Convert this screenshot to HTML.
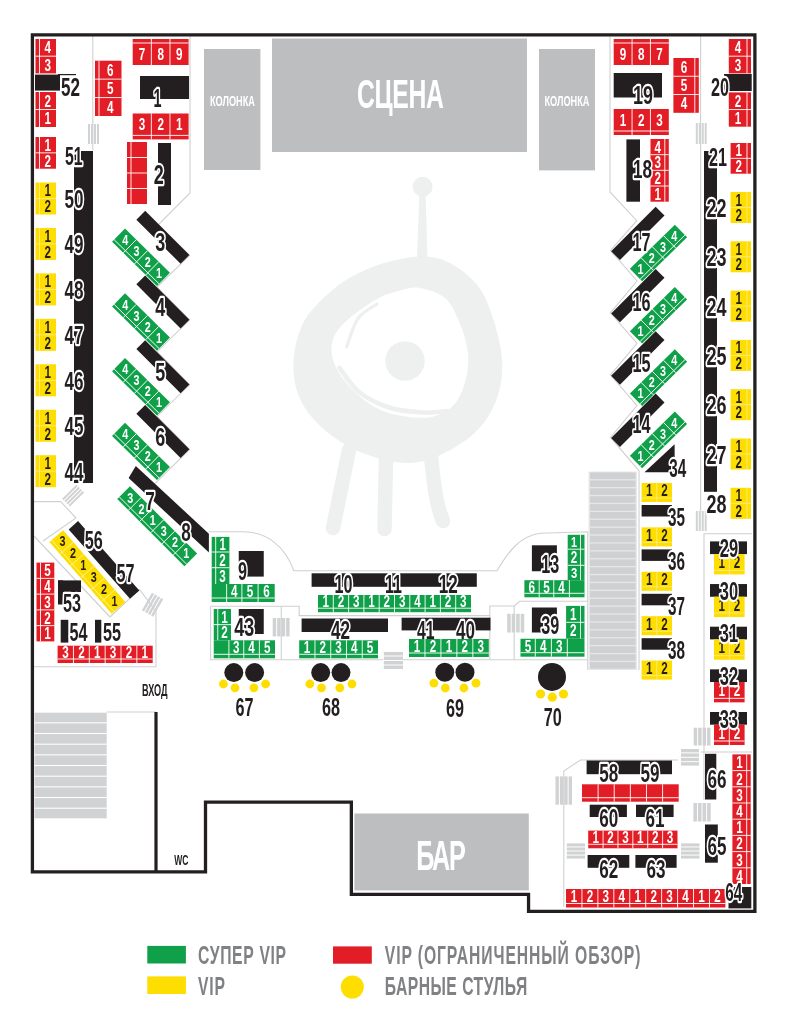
<!DOCTYPE html>
<html><head><meta charset="utf-8"><style>
html,body{margin:0;padding:0;background:#fff;width:787px;height:1024px;overflow:hidden}
svg{display:block;font-family:"Liberation Sans",sans-serif;will-change:transform}
</style></head><body>
<svg width="787" height="1024" viewBox="0 0 787 1024">
<path d="M349,450 L333,528" fill="none" stroke="#eeefef" stroke-width="14.5" stroke-linecap="round" stroke-linejoin="round" />
<path d="M386,458 L384.5,529" fill="none" stroke="#eeefef" stroke-width="14.5" stroke-linecap="round" stroke-linejoin="round" />
<path d="M431,455 Q435,503 443,521" fill="none" stroke="#eeefef" stroke-width="14.5" stroke-linecap="round" stroke-linejoin="round" />
<polygon points="419.5,192 425.5,192 427.5,258 417,258" fill="#eeefef"/>
<circle cx="422.6" cy="186.7" r="10" fill="#eeefef"/>
<path d="M422.2,256.4 C433.63,256.4 441.27,258.35 450.8,263.6 C460.33,268.85 472.02,277.67 479.4,287.9 C486.78,298.13 491.28,312.13 495.1,325 C498.92,337.87 502.07,352.7 502.3,365.1 C502.53,377.5 500.32,388.92 496.5,399.4 C492.68,409.88 486.53,419.9 479.4,428 C472.27,436.1 463.7,442.33 453.7,448 C443.7,453.67 430.85,460 419.4,462 C407.95,464 396.92,462.67 385,460 C373.08,457.33 359.33,452.3 347.9,446 C336.47,439.7 324.73,430.92 316.4,422.2 C308.07,413.48 301.7,404.17 297.9,393.7 C294.1,383.23 292.88,370.85 293.6,359.4 C294.32,347.95 297.92,334.53 302.2,325 C306.48,315.47 312.17,309.58 319.3,302.2 C326.43,294.82 334.52,287.13 345,280.7 C355.48,274.27 369.33,267.65 382.2,263.6 C395.07,259.55 410.77,256.4 422.2,256.4Z" fill="#eeefef" stroke="none" stroke-width="0" stroke-linecap="round" stroke-linejoin="round" />
<path d="M419.4,287.9 C427.02,289.1 438.43,292.18 445.1,297.9 C451.77,303.62 455.58,312.92 459.4,322.2 C463.22,331.48 467.05,343.6 468,353.6 C468.95,363.6 467.48,373.62 465.1,382.2 C462.72,390.78 458.93,399.38 453.7,405.1 C448.47,410.82 441.8,414.6 433.7,416.5 C425.6,418.4 414.63,417.92 405.1,416.5 C395.57,415.08 385.55,412.75 376.5,408 C367.45,403.25 357.72,395.15 350.8,388 C343.88,380.85 338.1,372.73 335,365.1 C331.9,357.47 330.53,349.35 332.2,342.2 C333.87,335.05 337.62,329.35 345,322.2 C352.38,315.05 367.43,304.55 376.5,299.3 C385.57,294.05 392.25,292.6 399.4,290.7 C406.55,288.8 411.78,286.7 419.4,287.9Z" fill="#ffffff" stroke="none" stroke-width="0" stroke-linecap="round" stroke-linejoin="round" />
<path d="M377,304 C373.83,306.42 363.08,311.33 358,318.5 C352.92,325.67 348.42,342.25 346.5,347" fill="none" stroke="#eeefef" stroke-width="3.2" stroke-linecap="round" stroke-linejoin="round" />
<path d="M339.5,368 C342.75,372 350.75,385.42 359,392 C367.25,398.58 378.33,404.08 389,407.5 C399.67,410.92 413.33,411.92 423,412.5 C432.67,413.08 443,411.25 447,411" fill="none" stroke="#eeefef" stroke-width="4.6" stroke-linecap="round" stroke-linejoin="round" />
<circle cx="405" cy="361" r="19.7" fill="#eeefef"/>
<polyline points="190,36 190,193 158,225 189.6,255.4 157,287 189.6,320.1 157,351.7 189.6,384.8 157,416.4 189.6,449.5 153.6,484.9 209,536.4" fill="none" stroke="#cfd0d1" stroke-width="1.1" stroke-linejoin="miter"/>
<path d="M208.5,531.7 L243.8,531.7 C268,532 286,548 293.8,570.8 L497,570.8 C508,552 520,536 540,533.3 L587.7,531.7 L587.7,601.3" fill="none" stroke="#cfd0d1" stroke-width="1.1"/>
<polyline points="610,36 610,192 636.8,220.7 610.5,250.5 637,281 610.5,312.8 637,343.3 610.5,375.1 637,405.6 610.5,437.4 639,470.8 639,670" fill="none" stroke="#cfd0d1" stroke-width="1.1" stroke-linejoin="miter"/>
<line x1="92.8" y1="36" x2="92.8" y2="150" stroke="#cfd0d1" stroke-width="1.1"/>
<line x1="700.6" y1="36" x2="700.6" y2="511" stroke="#cfd0d1" stroke-width="1.1"/>
<polyline points="32,501.6 60.7,501.6 76,518 43,541" fill="none" stroke="#cfd0d1" stroke-width="1.1" stroke-linejoin="miter"/>
<polyline points="34,536 110,617" fill="none" stroke="#cfd0d1" stroke-width="1.1" stroke-linejoin="miter"/>
<polyline points="139.4,589.3 152,606 156,612 156,666.8 32,666.8" fill="none" stroke="#cfd0d1" stroke-width="1.1" stroke-linejoin="miter"/>
<polyline points="110,617 139.4,589.3" fill="none" stroke="#cfd0d1" stroke-width="1.1" stroke-linejoin="miter"/>
<line x1="106.7" y1="712" x2="156" y2="712" stroke="#cfd0d1" stroke-width="1.1"/>
<polyline points="210.6,606.3 299.2,606.3 299.2,615.6 489.8,615.6" fill="none" stroke="#cfd0d1" stroke-width="1.1" stroke-linejoin="miter"/>
<polyline points="210.6,606.3 210.6,659.8 383,659.8" fill="none" stroke="#cfd0d1" stroke-width="1.1" stroke-linejoin="miter"/>
<line x1="281.3" y1="606.3" x2="281.3" y2="659.8" stroke="#cfd0d1" stroke-width="1.1"/>
<polyline points="489.8,659.6 489.8,606 514.2,606 519.7,601.3 587.7,601.3" fill="none" stroke="#cfd0d1" stroke-width="1.1" stroke-linejoin="miter"/>
<line x1="514.2" y1="606" x2="514.2" y2="659.8" stroke="#cfd0d1" stroke-width="1.1"/>
<line x1="403" y1="659.8" x2="587.7" y2="659.8" stroke="#cfd0d1" stroke-width="1.1"/>
<line x1="587.7" y1="601.3" x2="587.7" y2="670" stroke="#cfd0d1" stroke-width="1.1"/>
<polyline points="752,533.7 704,533.7 704,800" fill="none" stroke="#cfd0d1" stroke-width="1.1" stroke-linejoin="miter"/>
<polyline points="678,760 580.5,760 563.8,771 563.8,907" fill="none" stroke="#cfd0d1" stroke-width="1.1" stroke-linejoin="miter"/>
<line x1="700.9" y1="752" x2="752.3" y2="752" stroke="#cfd0d1" stroke-width="1.1"/>
<polygon points="32.4,34.8 754.9,34.8 754.9,911.35 528.55,911.35 528.55,894.35 351.35,894.35 351.35,802.1 205.5,802.1 205.5,871.9 32.4,871.9" fill="none" stroke="#231f20" stroke-width="3.3" stroke-linejoin="miter"/>
<line x1="156" y1="712" x2="156" y2="872" stroke="#231f20" stroke-width="3.2"/>
<rect x="272" y="38.5" width="255" height="113.5" fill="#bdbec0" />
<rect x="204" y="49" width="56.4" height="121" fill="#bdbec0" />
<rect x="539" y="49" width="56" height="121.4" fill="#bdbec0" />
<rect x="354.4" y="813.5" width="174.4" height="76.9" fill="#bdbec0" />
<g transform="translate(357 107.65) scale(0.6 1)"><text x="0" y="0" font-size="41.3" font-weight="bold" fill="#ffffff" textLength="145" lengthAdjust="spacing">СЦЕНА</text></g>
<text x="210" y="106" font-size="13.89" font-weight="bold" fill="#ffffff" textLength="45" lengthAdjust="spacingAndGlyphs">КОЛОНКА</text>
<text x="544.5" y="106" font-size="13.89" font-weight="bold" fill="#ffffff" textLength="45" lengthAdjust="spacingAndGlyphs">КОЛОНКА</text>
<g transform="translate(416.25 870) scale(0.6 1)"><text x="0" y="0" font-size="42.03" font-weight="bold" fill="#ffffff" textLength="82.5" lengthAdjust="spacing">БАР</text></g>
<rect x="88" y="124" width="2" height="20" fill="#d1d2d3" />
<rect x="91" y="124" width="2" height="20" fill="#d1d2d3" />
<rect x="94" y="124" width="2" height="20" fill="#d1d2d3" />
<rect x="97" y="124" width="2" height="20" fill="#d1d2d3" />
<rect x="695.8" y="123" width="1.98" height="21" fill="#d1d2d3" />
<rect x="698.77" y="123" width="1.98" height="21" fill="#d1d2d3" />
<rect x="701.75" y="123" width="1.98" height="21" fill="#d1d2d3" />
<rect x="704.73" y="123" width="1.98" height="21" fill="#d1d2d3" />
<rect x="695.8" y="511" width="1.98" height="20" fill="#d1d2d3" />
<rect x="698.77" y="511" width="1.98" height="20" fill="#d1d2d3" />
<rect x="701.75" y="511" width="1.98" height="20" fill="#d1d2d3" />
<rect x="704.73" y="511" width="1.98" height="20" fill="#d1d2d3" />
<rect x="272.7" y="618" width="3.48" height="18.4" fill="#d1d2d3" />
<rect x="277.18" y="618" width="3.47" height="18.4" fill="#d1d2d3" />
<rect x="281.65" y="618" width="3.48" height="18.4" fill="#d1d2d3" />
<rect x="286.12" y="618" width="3.48" height="18.4" fill="#d1d2d3" />
<rect x="507.2" y="613.8" width="3.5" height="18.7" fill="#d1d2d3" />
<rect x="511.7" y="613.8" width="3.5" height="18.7" fill="#d1d2d3" />
<rect x="516.2" y="613.8" width="3.5" height="18.7" fill="#d1d2d3" />
<rect x="520.7" y="613.8" width="3.5" height="18.7" fill="#d1d2d3" />
<rect x="383.8" y="652" width="19.2" height="3.5" fill="#d1d2d3" />
<rect x="383.8" y="656.5" width="19.2" height="3.5" fill="#d1d2d3" />
<rect x="383.8" y="661" width="19.2" height="3.5" fill="#d1d2d3" />
<rect x="383.8" y="665.5" width="19.2" height="3.5" fill="#d1d2d3" />
<rect x="693.7" y="727.7" width="3.45" height="17.8" fill="#d1d2d3" />
<rect x="698.15" y="727.7" width="3.45" height="17.8" fill="#d1d2d3" />
<rect x="702.6" y="727.7" width="3.45" height="17.8" fill="#d1d2d3" />
<rect x="707.05" y="727.7" width="3.45" height="17.8" fill="#d1d2d3" />
<rect x="681" y="749" width="18" height="3.4" fill="#d1d2d3" />
<rect x="681" y="753.4" width="18" height="3.4" fill="#d1d2d3" />
<rect x="681" y="757.8" width="18" height="3.4" fill="#d1d2d3" />
<rect x="681" y="762.2" width="18" height="3.4" fill="#d1d2d3" />
<rect x="555.5" y="776.4" width="3.38" height="28.3" fill="#d1d2d3" />
<rect x="559.88" y="776.4" width="3.38" height="28.3" fill="#d1d2d3" />
<rect x="564.25" y="776.4" width="3.38" height="28.3" fill="#d1d2d3" />
<rect x="568.62" y="776.4" width="3.38" height="28.3" fill="#d1d2d3" />
<rect x="566.8" y="843.4" width="18.2" height="3.05" fill="#d1d2d3" />
<rect x="566.8" y="847.45" width="18.2" height="3.05" fill="#d1d2d3" />
<rect x="566.8" y="851.5" width="18.2" height="3.05" fill="#d1d2d3" />
<rect x="566.8" y="855.55" width="18.2" height="3.05" fill="#d1d2d3" />
<rect x="681" y="843.4" width="18.5" height="3.05" fill="#d1d2d3" />
<rect x="681" y="847.45" width="18.5" height="3.05" fill="#d1d2d3" />
<rect x="681" y="851.5" width="18.5" height="3.05" fill="#d1d2d3" />
<rect x="681" y="855.55" width="18.5" height="3.05" fill="#d1d2d3" />
<rect x="693.4" y="803" width="3.58" height="18.5" fill="#d1d2d3" />
<rect x="697.98" y="803" width="3.57" height="18.5" fill="#d1d2d3" />
<rect x="702.55" y="803" width="3.58" height="18.5" fill="#d1d2d3" />
<rect x="707.12" y="803" width="3.58" height="18.5" fill="#d1d2d3" />
<g transform="translate(73.5,496) rotate(-45)">
<rect x="-10" y="-6" width="20" height="2" fill="#d1d2d3" />
<rect x="-10" y="-3" width="20" height="2" fill="#d1d2d3" />
<rect x="-10" y="0" width="20" height="2" fill="#d1d2d3" />
<rect x="-10" y="3" width="20" height="2" fill="#d1d2d3" />
</g>
<g transform="translate(153,605) rotate(-60)">
<rect x="-10" y="-7" width="20" height="2.5" fill="#d1d2d3" />
<rect x="-10" y="-3.5" width="20" height="2.5" fill="#d1d2d3" />
<rect x="-10" y="0" width="20" height="2.5" fill="#d1d2d3" />
<rect x="-10" y="3.5" width="20" height="2.5" fill="#d1d2d3" />
</g>
<rect x="588.5" y="471.5" width="48.5" height="198.5" fill="#e6e7e8" />
<rect x="590" y="472.5" width="45.5" height="6.6" fill="#cfd0d2" />
<rect x="590" y="480.4" width="45.5" height="6.6" fill="#cfd0d2" />
<rect x="590" y="488.3" width="45.5" height="6.6" fill="#cfd0d2" />
<rect x="590" y="496.2" width="45.5" height="6.6" fill="#cfd0d2" />
<rect x="590" y="504.1" width="45.5" height="6.6" fill="#cfd0d2" />
<rect x="590" y="512" width="45.5" height="6.6" fill="#cfd0d2" />
<rect x="590" y="519.9" width="45.5" height="6.6" fill="#cfd0d2" />
<rect x="590" y="527.8" width="45.5" height="6.6" fill="#cfd0d2" />
<rect x="590" y="535.7" width="45.5" height="6.6" fill="#cfd0d2" />
<rect x="590" y="543.6" width="45.5" height="6.6" fill="#cfd0d2" />
<rect x="590" y="551.5" width="45.5" height="6.6" fill="#cfd0d2" />
<rect x="590" y="559.4" width="45.5" height="6.6" fill="#cfd0d2" />
<rect x="590" y="567.3" width="45.5" height="6.6" fill="#cfd0d2" />
<rect x="590" y="575.2" width="45.5" height="6.6" fill="#cfd0d2" />
<rect x="590" y="583.1" width="45.5" height="6.6" fill="#cfd0d2" />
<rect x="590" y="591" width="45.5" height="6.6" fill="#cfd0d2" />
<rect x="590" y="598.9" width="45.5" height="6.6" fill="#cfd0d2" />
<rect x="590" y="606.8" width="45.5" height="6.6" fill="#cfd0d2" />
<rect x="590" y="614.7" width="45.5" height="6.6" fill="#cfd0d2" />
<rect x="590" y="622.6" width="45.5" height="6.6" fill="#cfd0d2" />
<rect x="590" y="630.5" width="45.5" height="6.6" fill="#cfd0d2" />
<rect x="590" y="638.4" width="45.5" height="6.6" fill="#cfd0d2" />
<rect x="590" y="646.3" width="45.5" height="6.6" fill="#cfd0d2" />
<rect x="590" y="654.2" width="45.5" height="6.6" fill="#cfd0d2" />
<rect x="590" y="662.1" width="45.5" height="6.6" fill="#cfd0d2" />
<rect x="34.5" y="712.7" width="72.2" height="9.6" fill="#d1d2d4" />
<rect x="34.5" y="723.37" width="72.2" height="9.6" fill="#d1d2d4" />
<rect x="34.5" y="734.04" width="72.2" height="9.6" fill="#d1d2d4" />
<rect x="34.5" y="744.71" width="72.2" height="9.6" fill="#d1d2d4" />
<rect x="34.5" y="755.38" width="72.2" height="9.6" fill="#d1d2d4" />
<rect x="34.5" y="766.05" width="72.2" height="9.6" fill="#d1d2d4" />
<rect x="34.5" y="776.72" width="72.2" height="9.6" fill="#d1d2d4" />
<rect x="34.5" y="787.39" width="72.2" height="9.6" fill="#d1d2d4" />
<rect x="34.5" y="798.06" width="72.2" height="9.6" fill="#d1d2d4" />
<rect x="34.5" y="808.73" width="72.2" height="9.6" fill="#d1d2d4" />
<rect x="35.5" y="39" width="20.5" height="34.4" fill="#e31d25" />
<line x1="35.5" y1="56.2" x2="56" y2="56.2" stroke="#ffffff" stroke-width="0.9"/>
<line x1="39.5" y1="39" x2="39.5" y2="73.4" stroke="#ffffff" stroke-width="0.9"/>
<text x="44.5" y="53.4" font-size="16.11" font-weight="bold" fill="#ffffff" textLength="6.5" lengthAdjust="spacingAndGlyphs">4</text>
<text x="44.5" y="70.6" font-size="16.11" font-weight="bold" fill="#ffffff" textLength="6.5" lengthAdjust="spacingAndGlyphs">3</text>
<rect x="35" y="74.6" width="25" height="16" fill="#231f20" />
<rect x="35.5" y="92" width="20.5" height="35" fill="#e31d25" />
<line x1="35.5" y1="109.5" x2="56" y2="109.5" stroke="#ffffff" stroke-width="0.9"/>
<line x1="39.5" y1="92" x2="39.5" y2="127" stroke="#ffffff" stroke-width="0.9"/>
<text x="44.5" y="106.55" font-size="16.11" font-weight="bold" fill="#ffffff" textLength="6.5" lengthAdjust="spacingAndGlyphs">2</text>
<text x="44.5" y="124.05" font-size="16.11" font-weight="bold" fill="#ffffff" textLength="6.5" lengthAdjust="spacingAndGlyphs">1</text>
<rect x="35.5" y="137" width="20.5" height="31.7" fill="#e31d25" />
<line x1="35.5" y1="152.85" x2="56" y2="152.85" stroke="#ffffff" stroke-width="0.9"/>
<line x1="39.5" y1="137" x2="39.5" y2="168.7" stroke="#ffffff" stroke-width="0.9"/>
<text x="44.5" y="150.73" font-size="16.11" font-weight="bold" fill="#ffffff" textLength="6.5" lengthAdjust="spacingAndGlyphs">1</text>
<text x="44.5" y="166.57" font-size="16.11" font-weight="bold" fill="#ffffff" textLength="6.5" lengthAdjust="spacingAndGlyphs">2</text>
<rect x="74" y="151" width="19" height="332" fill="#231f20" />
<rect x="35.5" y="182.5" width="20.5" height="32" fill="#fedd00" />
<line x1="35.5" y1="198.5" x2="56" y2="198.5" stroke="#ffec80" stroke-width="0.9"/>
<line x1="39.5" y1="182.5" x2="39.5" y2="214.5" stroke="#ffec80" stroke-width="0.9"/>
<text x="44.5" y="196.3" font-size="16.11" font-weight="bold" fill="#231f20" textLength="6.5" lengthAdjust="spacingAndGlyphs">1</text>
<text x="44.5" y="212.3" font-size="16.11" font-weight="bold" fill="#231f20" textLength="6.5" lengthAdjust="spacingAndGlyphs">2</text>
<text x="64.5" y="208" font-size="26.39" font-weight="bold" fill="#ffffff" stroke="#ffffff" stroke-width="4.4" stroke-linejoin="round" textLength="19" lengthAdjust="spacingAndGlyphs">50</text><text x="64.5" y="208" font-size="26.39" font-weight="bold" fill="#231f20" textLength="19" lengthAdjust="spacingAndGlyphs">50</text>
<rect x="35.5" y="227.95" width="20.5" height="32" fill="#fedd00" />
<line x1="35.5" y1="243.95" x2="56" y2="243.95" stroke="#ffec80" stroke-width="0.9"/>
<line x1="39.5" y1="227.95" x2="39.5" y2="259.95" stroke="#ffec80" stroke-width="0.9"/>
<text x="44.5" y="241.75" font-size="16.11" font-weight="bold" fill="#231f20" textLength="6.5" lengthAdjust="spacingAndGlyphs">1</text>
<text x="44.5" y="257.75" font-size="16.11" font-weight="bold" fill="#231f20" textLength="6.5" lengthAdjust="spacingAndGlyphs">2</text>
<text x="64.5" y="253.45" font-size="26.39" font-weight="bold" fill="#ffffff" stroke="#ffffff" stroke-width="4.4" stroke-linejoin="round" textLength="19" lengthAdjust="spacingAndGlyphs">49</text><text x="64.5" y="253.45" font-size="26.39" font-weight="bold" fill="#231f20" textLength="19" lengthAdjust="spacingAndGlyphs">49</text>
<rect x="35.5" y="273.4" width="20.5" height="32" fill="#fedd00" />
<line x1="35.5" y1="289.4" x2="56" y2="289.4" stroke="#ffec80" stroke-width="0.9"/>
<line x1="39.5" y1="273.4" x2="39.5" y2="305.4" stroke="#ffec80" stroke-width="0.9"/>
<text x="44.5" y="287.2" font-size="16.11" font-weight="bold" fill="#231f20" textLength="6.5" lengthAdjust="spacingAndGlyphs">1</text>
<text x="44.5" y="303.2" font-size="16.11" font-weight="bold" fill="#231f20" textLength="6.5" lengthAdjust="spacingAndGlyphs">2</text>
<text x="64.5" y="298.9" font-size="26.39" font-weight="bold" fill="#ffffff" stroke="#ffffff" stroke-width="4.4" stroke-linejoin="round" textLength="19" lengthAdjust="spacingAndGlyphs">48</text><text x="64.5" y="298.9" font-size="26.39" font-weight="bold" fill="#231f20" textLength="19" lengthAdjust="spacingAndGlyphs">48</text>
<rect x="35.5" y="318.85" width="20.5" height="32" fill="#fedd00" />
<line x1="35.5" y1="334.85" x2="56" y2="334.85" stroke="#ffec80" stroke-width="0.9"/>
<line x1="39.5" y1="318.85" x2="39.5" y2="350.85" stroke="#ffec80" stroke-width="0.9"/>
<text x="44.5" y="332.65" font-size="16.11" font-weight="bold" fill="#231f20" textLength="6.5" lengthAdjust="spacingAndGlyphs">1</text>
<text x="44.5" y="348.65" font-size="16.11" font-weight="bold" fill="#231f20" textLength="6.5" lengthAdjust="spacingAndGlyphs">2</text>
<text x="64.5" y="344.35" font-size="26.39" font-weight="bold" fill="#ffffff" stroke="#ffffff" stroke-width="4.4" stroke-linejoin="round" textLength="19" lengthAdjust="spacingAndGlyphs">47</text><text x="64.5" y="344.35" font-size="26.39" font-weight="bold" fill="#231f20" textLength="19" lengthAdjust="spacingAndGlyphs">47</text>
<rect x="35.5" y="364.3" width="20.5" height="32" fill="#fedd00" />
<line x1="35.5" y1="380.3" x2="56" y2="380.3" stroke="#ffec80" stroke-width="0.9"/>
<line x1="39.5" y1="364.3" x2="39.5" y2="396.3" stroke="#ffec80" stroke-width="0.9"/>
<text x="44.5" y="378.1" font-size="16.11" font-weight="bold" fill="#231f20" textLength="6.5" lengthAdjust="spacingAndGlyphs">1</text>
<text x="44.5" y="394.1" font-size="16.11" font-weight="bold" fill="#231f20" textLength="6.5" lengthAdjust="spacingAndGlyphs">2</text>
<text x="64.5" y="389.8" font-size="26.39" font-weight="bold" fill="#ffffff" stroke="#ffffff" stroke-width="4.4" stroke-linejoin="round" textLength="19" lengthAdjust="spacingAndGlyphs">46</text><text x="64.5" y="389.8" font-size="26.39" font-weight="bold" fill="#231f20" textLength="19" lengthAdjust="spacingAndGlyphs">46</text>
<rect x="35.5" y="409.75" width="20.5" height="32" fill="#fedd00" />
<line x1="35.5" y1="425.75" x2="56" y2="425.75" stroke="#ffec80" stroke-width="0.9"/>
<line x1="39.5" y1="409.75" x2="39.5" y2="441.75" stroke="#ffec80" stroke-width="0.9"/>
<text x="44.5" y="423.55" font-size="16.11" font-weight="bold" fill="#231f20" textLength="6.5" lengthAdjust="spacingAndGlyphs">1</text>
<text x="44.5" y="439.55" font-size="16.11" font-weight="bold" fill="#231f20" textLength="6.5" lengthAdjust="spacingAndGlyphs">2</text>
<text x="64.5" y="435.25" font-size="26.39" font-weight="bold" fill="#ffffff" stroke="#ffffff" stroke-width="4.4" stroke-linejoin="round" textLength="19" lengthAdjust="spacingAndGlyphs">45</text><text x="64.5" y="435.25" font-size="26.39" font-weight="bold" fill="#231f20" textLength="19" lengthAdjust="spacingAndGlyphs">45</text>
<rect x="35.5" y="455.2" width="20.5" height="32" fill="#fedd00" />
<line x1="35.5" y1="471.2" x2="56" y2="471.2" stroke="#ffec80" stroke-width="0.9"/>
<line x1="39.5" y1="455.2" x2="39.5" y2="487.2" stroke="#ffec80" stroke-width="0.9"/>
<text x="44.5" y="469" font-size="16.11" font-weight="bold" fill="#231f20" textLength="6.5" lengthAdjust="spacingAndGlyphs">1</text>
<text x="44.5" y="485" font-size="16.11" font-weight="bold" fill="#231f20" textLength="6.5" lengthAdjust="spacingAndGlyphs">2</text>
<text x="64.5" y="480.7" font-size="26.39" font-weight="bold" fill="#ffffff" stroke="#ffffff" stroke-width="4.4" stroke-linejoin="round" textLength="19" lengthAdjust="spacingAndGlyphs">44</text><text x="64.5" y="480.7" font-size="26.39" font-weight="bold" fill="#231f20" textLength="19" lengthAdjust="spacingAndGlyphs">44</text>
<text x="61" y="96" font-size="26.39" font-weight="bold" fill="#ffffff" stroke="#ffffff" stroke-width="4.4" stroke-linejoin="round" textLength="19" lengthAdjust="spacingAndGlyphs">52</text><text x="61" y="96" font-size="26.39" font-weight="bold" fill="#231f20" textLength="19" lengthAdjust="spacingAndGlyphs">52</text>
<line x1="58" y1="74.6" x2="76" y2="74.6" stroke="#231f20" stroke-width="1.2"/>
<text x="65" y="164.65" font-size="25.69" font-weight="bold" fill="#ffffff" stroke="#ffffff" stroke-width="4.4" stroke-linejoin="round" textLength="17.6" lengthAdjust="spacingAndGlyphs">51</text><text x="65" y="164.65" font-size="25.69" font-weight="bold" fill="#231f20" textLength="17.6" lengthAdjust="spacingAndGlyphs">51</text>
<rect x="95" y="60.7" width="26.5" height="55.3" fill="#e31d25" />
<line x1="95" y1="79.13" x2="121.5" y2="79.13" stroke="#ffffff" stroke-width="0.9"/>
<line x1="95" y1="97.57" x2="121.5" y2="97.57" stroke="#ffffff" stroke-width="0.9"/>
<line x1="99" y1="60.7" x2="99" y2="116" stroke="#ffffff" stroke-width="0.9"/>
<text x="107" y="75.72" font-size="16.11" font-weight="bold" fill="#ffffff" textLength="6.5" lengthAdjust="spacingAndGlyphs">6</text>
<text x="107" y="94.15" font-size="16.11" font-weight="bold" fill="#ffffff" textLength="6.5" lengthAdjust="spacingAndGlyphs">5</text>
<text x="107" y="112.58" font-size="16.11" font-weight="bold" fill="#ffffff" textLength="6.5" lengthAdjust="spacingAndGlyphs">4</text>
<rect x="132.7" y="39" width="55.9" height="26" fill="#e31d25" />
<line x1="151.33" y1="39" x2="151.33" y2="65" stroke="#ffffff" stroke-width="0.9"/>
<line x1="169.97" y1="39" x2="169.97" y2="65" stroke="#ffffff" stroke-width="0.9"/>
<line x1="132.7" y1="43" x2="188.6" y2="43" stroke="#ffffff" stroke-width="0.9"/>
<text x="138.77" y="59.8" font-size="16.11" font-weight="bold" fill="#ffffff" textLength="6.5" lengthAdjust="spacingAndGlyphs">7</text>
<text x="157.4" y="59.8" font-size="16.11" font-weight="bold" fill="#ffffff" textLength="6.5" lengthAdjust="spacingAndGlyphs">8</text>
<text x="176.04" y="59.8" font-size="16.11" font-weight="bold" fill="#ffffff" textLength="6.5" lengthAdjust="spacingAndGlyphs">9</text>
<rect x="140" y="76" width="49" height="23" fill="#231f20" />
<text x="153.5" y="106.5" font-size="25" font-weight="bold" fill="#ffffff" stroke="#ffffff" stroke-width="4.4" stroke-linejoin="round" textLength="8" lengthAdjust="spacingAndGlyphs">1</text><text x="153.5" y="106.5" font-size="25" font-weight="bold" fill="#231f20" textLength="8" lengthAdjust="spacingAndGlyphs">1</text>
<rect x="132.7" y="113.5" width="55.9" height="25.9" fill="#e31d25" />
<line x1="151.33" y1="113.5" x2="151.33" y2="139.4" stroke="#ffffff" stroke-width="0.9"/>
<line x1="169.97" y1="113.5" x2="169.97" y2="139.4" stroke="#ffffff" stroke-width="0.9"/>
<line x1="132.7" y1="135.4" x2="188.6" y2="135.4" stroke="#ffffff" stroke-width="0.9"/>
<text x="138.77" y="130.25" font-size="16.11" font-weight="bold" fill="#ffffff" textLength="6.5" lengthAdjust="spacingAndGlyphs">3</text>
<text x="157.4" y="130.25" font-size="16.11" font-weight="bold" fill="#ffffff" textLength="6.5" lengthAdjust="spacingAndGlyphs">2</text>
<text x="176.04" y="130.25" font-size="16.11" font-weight="bold" fill="#ffffff" textLength="6.5" lengthAdjust="spacingAndGlyphs">1</text>
<rect x="127" y="142" width="20" height="62" fill="#e31d25" />
<line x1="127" y1="157.5" x2="147" y2="157.5" stroke="#ffffff" stroke-width="0.9"/>
<line x1="127" y1="173" x2="147" y2="173" stroke="#ffffff" stroke-width="0.9"/>
<line x1="127" y1="188.5" x2="147" y2="188.5" stroke="#ffffff" stroke-width="0.9"/>
<line x1="131" y1="142" x2="131" y2="204" stroke="#ffffff" stroke-width="0.9"/>
<rect x="158" y="143" width="13" height="62" fill="#231f20" />
<text x="153.8" y="184" font-size="27.78" font-weight="bold" fill="#ffffff" stroke="#ffffff" stroke-width="4.4" stroke-linejoin="round" textLength="10" lengthAdjust="spacingAndGlyphs">2</text><text x="153.8" y="184" font-size="27.78" font-weight="bold" fill="#231f20" textLength="10" lengthAdjust="spacingAndGlyphs">2</text>
<g transform="translate(162.9 237.35) rotate(45)">
<rect x="-31.25" y="-6.25" width="62.5" height="12.5" fill="#231f20" />
</g>
<g transform="translate(141 257.3) rotate(44.5)">
<rect x="-31.5" y="-9.25" width="63" height="18.5" fill="#10a04a" />
<line x1="-15.75" y1="-9.25" x2="-15.75" y2="9.25" stroke="#ffffff" stroke-width="0.9"/>
<line x1="0" y1="-9.25" x2="0" y2="9.25" stroke="#ffffff" stroke-width="0.9"/>
<line x1="15.75" y1="-9.25" x2="15.75" y2="9.25" stroke="#ffffff" stroke-width="0.9"/>
<line x1="-31.5" y1="6.25" x2="31.5" y2="6.25" stroke="#ffffff" stroke-width="0.9"/>
</g>
<text x="122.2" y="244.92" font-size="14.58" font-weight="bold" fill="#ffffff" textLength="6" lengthAdjust="spacingAndGlyphs">4</text>
<text x="133.43" y="255.96" font-size="14.58" font-weight="bold" fill="#ffffff" textLength="6" lengthAdjust="spacingAndGlyphs">3</text>
<text x="144.67" y="267" font-size="14.58" font-weight="bold" fill="#ffffff" textLength="6" lengthAdjust="spacingAndGlyphs">2</text>
<text x="155.9" y="278.04" font-size="14.58" font-weight="bold" fill="#ffffff" textLength="6" lengthAdjust="spacingAndGlyphs">1</text>
<text x="155.3" y="251" font-size="26.39" font-weight="bold" fill="#ffffff" stroke="#ffffff" stroke-width="4.4" stroke-linejoin="round" textLength="10" lengthAdjust="spacingAndGlyphs">3</text><text x="155.3" y="251" font-size="26.39" font-weight="bold" fill="#231f20" textLength="10" lengthAdjust="spacingAndGlyphs">3</text>
<g transform="translate(162.9 302.05) rotate(45)">
<rect x="-31.25" y="-6.25" width="62.5" height="12.5" fill="#231f20" />
</g>
<g transform="translate(141 322) rotate(44.5)">
<rect x="-31.5" y="-9.25" width="63" height="18.5" fill="#10a04a" />
<line x1="-15.75" y1="-9.25" x2="-15.75" y2="9.25" stroke="#ffffff" stroke-width="0.9"/>
<line x1="0" y1="-9.25" x2="0" y2="9.25" stroke="#ffffff" stroke-width="0.9"/>
<line x1="15.75" y1="-9.25" x2="15.75" y2="9.25" stroke="#ffffff" stroke-width="0.9"/>
<line x1="-31.5" y1="6.25" x2="31.5" y2="6.25" stroke="#ffffff" stroke-width="0.9"/>
</g>
<text x="122.2" y="309.62" font-size="14.58" font-weight="bold" fill="#ffffff" textLength="6" lengthAdjust="spacingAndGlyphs">4</text>
<text x="133.43" y="320.66" font-size="14.58" font-weight="bold" fill="#ffffff" textLength="6" lengthAdjust="spacingAndGlyphs">3</text>
<text x="144.67" y="331.7" font-size="14.58" font-weight="bold" fill="#ffffff" textLength="6" lengthAdjust="spacingAndGlyphs">2</text>
<text x="155.9" y="342.74" font-size="14.58" font-weight="bold" fill="#ffffff" textLength="6" lengthAdjust="spacingAndGlyphs">1</text>
<text x="155.3" y="316" font-size="26.39" font-weight="bold" fill="#ffffff" stroke="#ffffff" stroke-width="4.4" stroke-linejoin="round" textLength="10" lengthAdjust="spacingAndGlyphs">4</text><text x="155.3" y="316" font-size="26.39" font-weight="bold" fill="#231f20" textLength="10" lengthAdjust="spacingAndGlyphs">4</text>
<g transform="translate(162.9 366.75) rotate(45)">
<rect x="-31.25" y="-6.25" width="62.5" height="12.5" fill="#231f20" />
</g>
<g transform="translate(141 386.7) rotate(44.5)">
<rect x="-31.5" y="-9.25" width="63" height="18.5" fill="#10a04a" />
<line x1="-15.75" y1="-9.25" x2="-15.75" y2="9.25" stroke="#ffffff" stroke-width="0.9"/>
<line x1="0" y1="-9.25" x2="0" y2="9.25" stroke="#ffffff" stroke-width="0.9"/>
<line x1="15.75" y1="-9.25" x2="15.75" y2="9.25" stroke="#ffffff" stroke-width="0.9"/>
<line x1="-31.5" y1="6.25" x2="31.5" y2="6.25" stroke="#ffffff" stroke-width="0.9"/>
</g>
<text x="122.2" y="374.32" font-size="14.58" font-weight="bold" fill="#ffffff" textLength="6" lengthAdjust="spacingAndGlyphs">4</text>
<text x="133.43" y="385.36" font-size="14.58" font-weight="bold" fill="#ffffff" textLength="6" lengthAdjust="spacingAndGlyphs">3</text>
<text x="144.67" y="396.4" font-size="14.58" font-weight="bold" fill="#ffffff" textLength="6" lengthAdjust="spacingAndGlyphs">2</text>
<text x="155.9" y="407.44" font-size="14.58" font-weight="bold" fill="#ffffff" textLength="6" lengthAdjust="spacingAndGlyphs">1</text>
<text x="155.3" y="381" font-size="26.39" font-weight="bold" fill="#ffffff" stroke="#ffffff" stroke-width="4.4" stroke-linejoin="round" textLength="10" lengthAdjust="spacingAndGlyphs">5</text><text x="155.3" y="381" font-size="26.39" font-weight="bold" fill="#231f20" textLength="10" lengthAdjust="spacingAndGlyphs">5</text>
<g transform="translate(162.9 431.45) rotate(45)">
<rect x="-31.25" y="-6.25" width="62.5" height="12.5" fill="#231f20" />
</g>
<g transform="translate(141 451.4) rotate(44.5)">
<rect x="-31.5" y="-9.25" width="63" height="18.5" fill="#10a04a" />
<line x1="-15.75" y1="-9.25" x2="-15.75" y2="9.25" stroke="#ffffff" stroke-width="0.9"/>
<line x1="0" y1="-9.25" x2="0" y2="9.25" stroke="#ffffff" stroke-width="0.9"/>
<line x1="15.75" y1="-9.25" x2="15.75" y2="9.25" stroke="#ffffff" stroke-width="0.9"/>
<line x1="-31.5" y1="6.25" x2="31.5" y2="6.25" stroke="#ffffff" stroke-width="0.9"/>
</g>
<text x="122.2" y="439.02" font-size="14.58" font-weight="bold" fill="#ffffff" textLength="6" lengthAdjust="spacingAndGlyphs">4</text>
<text x="133.43" y="450.06" font-size="14.58" font-weight="bold" fill="#ffffff" textLength="6" lengthAdjust="spacingAndGlyphs">3</text>
<text x="144.67" y="461.1" font-size="14.58" font-weight="bold" fill="#ffffff" textLength="6" lengthAdjust="spacingAndGlyphs">2</text>
<text x="155.9" y="472.14" font-size="14.58" font-weight="bold" fill="#ffffff" textLength="6" lengthAdjust="spacingAndGlyphs">1</text>
<text x="155.3" y="446" font-size="26.39" font-weight="bold" fill="#ffffff" stroke="#ffffff" stroke-width="4.4" stroke-linejoin="round" textLength="10" lengthAdjust="spacingAndGlyphs">6</text><text x="155.3" y="446" font-size="26.39" font-weight="bold" fill="#231f20" textLength="10" lengthAdjust="spacingAndGlyphs">6</text>
<polygon points="135.8,466 208.9,533.8 208.9,552.4 128.6,478" fill="#231f20"/>
<g transform="translate(157.2 526.3) rotate(45)">
<rect x="-47.5" y="-9" width="95" height="18" fill="#10a04a" />
<line x1="-31.67" y1="-9" x2="-31.67" y2="9" stroke="#ffffff" stroke-width="0.9"/>
<line x1="-15.83" y1="-9" x2="-15.83" y2="9" stroke="#ffffff" stroke-width="0.9"/>
<line x1="0" y1="-9" x2="0" y2="9" stroke="#ffffff" stroke-width="0.9"/>
<line x1="15.83" y1="-9" x2="15.83" y2="9" stroke="#ffffff" stroke-width="0.9"/>
<line x1="31.67" y1="-9" x2="31.67" y2="9" stroke="#ffffff" stroke-width="0.9"/>
<line x1="-47.5" y1="6" x2="47.5" y2="6" stroke="#ffffff" stroke-width="0.9"/>
</g>
<text x="127.27" y="502.5" font-size="14.58" font-weight="bold" fill="#ffffff" textLength="6" lengthAdjust="spacingAndGlyphs">3</text>
<text x="138.47" y="513.7" font-size="14.58" font-weight="bold" fill="#ffffff" textLength="6" lengthAdjust="spacingAndGlyphs">2</text>
<text x="149.66" y="524.89" font-size="14.58" font-weight="bold" fill="#ffffff" textLength="6" lengthAdjust="spacingAndGlyphs">1</text>
<text x="160.86" y="536.09" font-size="14.58" font-weight="bold" fill="#ffffff" textLength="6" lengthAdjust="spacingAndGlyphs">3</text>
<text x="172.05" y="547.28" font-size="14.58" font-weight="bold" fill="#ffffff" textLength="6" lengthAdjust="spacingAndGlyphs">2</text>
<text x="183.25" y="558.48" font-size="14.58" font-weight="bold" fill="#ffffff" textLength="6" lengthAdjust="spacingAndGlyphs">1</text>
<text x="145.25" y="510" font-size="25" font-weight="bold" fill="#ffffff" stroke="#ffffff" stroke-width="4.4" stroke-linejoin="round" textLength="9.5" lengthAdjust="spacingAndGlyphs">7</text><text x="145.25" y="510" font-size="25" font-weight="bold" fill="#231f20" textLength="9.5" lengthAdjust="spacingAndGlyphs">7</text>
<text x="181.25" y="540.7" font-size="25" font-weight="bold" fill="#ffffff" stroke="#ffffff" stroke-width="4.4" stroke-linejoin="round" textLength="9.5" lengthAdjust="spacingAndGlyphs">8</text><text x="181.25" y="540.7" font-size="25" font-weight="bold" fill="#231f20" textLength="9.5" lengthAdjust="spacingAndGlyphs">8</text>
<g transform="translate(104 559.9) rotate(48.5)">
<rect x="-46.25" y="-6.25" width="92.5" height="12.5" fill="#231f20" />
</g>
<g transform="translate(87.4 572) rotate(49)">
<rect x="-47.5" y="-9" width="95" height="18" fill="#fedd00" />
<line x1="-31.67" y1="-9" x2="-31.67" y2="9" stroke="#fff3a0" stroke-width="0.9"/>
<line x1="-15.83" y1="-9" x2="-15.83" y2="9" stroke="#fff3a0" stroke-width="0.9"/>
<line x1="0" y1="-9" x2="0" y2="9" stroke="#fff3a0" stroke-width="0.9"/>
<line x1="15.83" y1="-9" x2="15.83" y2="9" stroke="#fff3a0" stroke-width="0.9"/>
<line x1="31.67" y1="-9" x2="31.67" y2="9" stroke="#fff3a0" stroke-width="0.9"/>
<line x1="-47.5" y1="6" x2="47.5" y2="6" stroke="#fff3a0" stroke-width="0.9"/>
</g>
<text x="59.56" y="546.39" font-size="14.58" font-weight="bold" fill="#231f20" textLength="6" lengthAdjust="spacingAndGlyphs">3</text>
<text x="69.95" y="558.34" font-size="14.58" font-weight="bold" fill="#231f20" textLength="6" lengthAdjust="spacingAndGlyphs">2</text>
<text x="80.34" y="570.29" font-size="14.58" font-weight="bold" fill="#231f20" textLength="6" lengthAdjust="spacingAndGlyphs">1</text>
<text x="90.73" y="582.24" font-size="14.58" font-weight="bold" fill="#231f20" textLength="6" lengthAdjust="spacingAndGlyphs">3</text>
<text x="101.11" y="594.19" font-size="14.58" font-weight="bold" fill="#231f20" textLength="6" lengthAdjust="spacingAndGlyphs">2</text>
<text x="111.5" y="606.14" font-size="14.58" font-weight="bold" fill="#231f20" textLength="6" lengthAdjust="spacingAndGlyphs">1</text>
<text x="84.7" y="548.7" font-size="25" font-weight="bold" fill="#ffffff" stroke="#ffffff" stroke-width="4.4" stroke-linejoin="round" textLength="18" lengthAdjust="spacingAndGlyphs">56</text><text x="84.7" y="548.7" font-size="25" font-weight="bold" fill="#231f20" textLength="18" lengthAdjust="spacingAndGlyphs">56</text>
<text x="116.5" y="581.8" font-size="25" font-weight="bold" fill="#ffffff" stroke="#ffffff" stroke-width="4.4" stroke-linejoin="round" textLength="18" lengthAdjust="spacingAndGlyphs">57</text><text x="116.5" y="581.8" font-size="25" font-weight="bold" fill="#231f20" textLength="18" lengthAdjust="spacingAndGlyphs">57</text>
<rect x="36.5" y="562.6" width="17.8" height="78.8" fill="#e31d25" />
<line x1="36.5" y1="578.36" x2="54.3" y2="578.36" stroke="#ffffff" stroke-width="0.9"/>
<line x1="36.5" y1="594.12" x2="54.3" y2="594.12" stroke="#ffffff" stroke-width="0.9"/>
<line x1="36.5" y1="609.88" x2="54.3" y2="609.88" stroke="#ffffff" stroke-width="0.9"/>
<line x1="36.5" y1="625.64" x2="54.3" y2="625.64" stroke="#ffffff" stroke-width="0.9"/>
<line x1="40.5" y1="562.6" x2="40.5" y2="641.4" stroke="#ffffff" stroke-width="0.9"/>
<text x="44.15" y="576.28" font-size="16.11" font-weight="bold" fill="#ffffff" textLength="6.5" lengthAdjust="spacingAndGlyphs">5</text>
<text x="44.15" y="592.04" font-size="16.11" font-weight="bold" fill="#ffffff" textLength="6.5" lengthAdjust="spacingAndGlyphs">4</text>
<text x="44.15" y="607.8" font-size="16.11" font-weight="bold" fill="#ffffff" textLength="6.5" lengthAdjust="spacingAndGlyphs">3</text>
<text x="44.15" y="623.56" font-size="16.11" font-weight="bold" fill="#ffffff" textLength="6.5" lengthAdjust="spacingAndGlyphs">2</text>
<text x="44.15" y="639.32" font-size="16.11" font-weight="bold" fill="#ffffff" textLength="6.5" lengthAdjust="spacingAndGlyphs">1</text>
<rect x="58" y="580.4" width="23" height="11.6" fill="#231f20" />
<rect x="58" y="580.4" width="5" height="24.1" fill="#231f20" />
<text x="63" y="612" font-size="25" font-weight="bold" fill="#ffffff" stroke="#ffffff" stroke-width="4.4" stroke-linejoin="round" textLength="18" lengthAdjust="spacingAndGlyphs">53</text><text x="63" y="612" font-size="25" font-weight="bold" fill="#231f20" textLength="18" lengthAdjust="spacingAndGlyphs">53</text>
<rect x="60.7" y="619.8" width="7.6" height="22.8" fill="#231f20" />
<text x="69.5" y="641" font-size="25" font-weight="bold" fill="#ffffff" stroke="#ffffff" stroke-width="4.4" stroke-linejoin="round" textLength="18" lengthAdjust="spacingAndGlyphs">54</text><text x="69.5" y="641" font-size="25" font-weight="bold" fill="#231f20" textLength="18" lengthAdjust="spacingAndGlyphs">54</text>
<rect x="95" y="619.8" width="6.3" height="22.8" fill="#231f20" />
<text x="103" y="641" font-size="25" font-weight="bold" fill="#ffffff" stroke="#ffffff" stroke-width="4.4" stroke-linejoin="round" textLength="18" lengthAdjust="spacingAndGlyphs">55</text><text x="103" y="641" font-size="25" font-weight="bold" fill="#231f20" textLength="18" lengthAdjust="spacingAndGlyphs">55</text>
<rect x="57.6" y="645.7" width="95.1" height="17.3" fill="#e31d25" />
<line x1="73.45" y1="645.7" x2="73.45" y2="663" stroke="#ffffff" stroke-width="0.9"/>
<line x1="89.3" y1="645.7" x2="89.3" y2="663" stroke="#ffffff" stroke-width="0.9"/>
<line x1="105.15" y1="645.7" x2="105.15" y2="663" stroke="#ffffff" stroke-width="0.9"/>
<line x1="121" y1="645.7" x2="121" y2="663" stroke="#ffffff" stroke-width="0.9"/>
<line x1="136.85" y1="645.7" x2="136.85" y2="663" stroke="#ffffff" stroke-width="0.9"/>
<line x1="57.6" y1="659" x2="152.7" y2="659" stroke="#ffffff" stroke-width="0.9"/>
<text x="62.28" y="658.15" font-size="16.11" font-weight="bold" fill="#ffffff" textLength="6.5" lengthAdjust="spacingAndGlyphs">3</text>
<text x="78.13" y="658.15" font-size="16.11" font-weight="bold" fill="#ffffff" textLength="6.5" lengthAdjust="spacingAndGlyphs">2</text>
<text x="93.98" y="658.15" font-size="16.11" font-weight="bold" fill="#ffffff" textLength="6.5" lengthAdjust="spacingAndGlyphs">1</text>
<text x="109.83" y="658.15" font-size="16.11" font-weight="bold" fill="#ffffff" textLength="6.5" lengthAdjust="spacingAndGlyphs">3</text>
<text x="125.68" y="658.15" font-size="16.11" font-weight="bold" fill="#ffffff" textLength="6.5" lengthAdjust="spacingAndGlyphs">2</text>
<text x="141.53" y="658.15" font-size="16.11" font-weight="bold" fill="#ffffff" textLength="6.5" lengthAdjust="spacingAndGlyphs">1</text>
<rect x="211.7" y="536.9" width="17.7" height="47.1" fill="#10a04a" />
<line x1="211.7" y1="552" x2="229.4" y2="552" stroke="#ffffff" stroke-width="0.9"/>
<line x1="211.7" y1="567.7" x2="229.4" y2="567.7" stroke="#ffffff" stroke-width="0.9"/>
<line x1="215.7" y1="536.9" x2="215.7" y2="584" stroke="#ffffff" stroke-width="0.9"/>
<text x="219.38" y="550.11" font-size="15.73" font-weight="bold" fill="#ffffff" textLength="6.34" lengthAdjust="spacingAndGlyphs">1</text>
<text x="219.3" y="565.65" font-size="16.11" font-weight="bold" fill="#ffffff" textLength="6.5" lengthAdjust="spacingAndGlyphs">2</text>
<text x="219.3" y="581.65" font-size="16.11" font-weight="bold" fill="#ffffff" textLength="6.5" lengthAdjust="spacingAndGlyphs">3</text>
<rect x="211.7" y="584" width="63" height="18" fill="#10a04a" />
<line x1="226.6" y1="584" x2="226.6" y2="602" stroke="#ffffff" stroke-width="0.9"/>
<line x1="241.9" y1="584" x2="241.9" y2="602" stroke="#ffffff" stroke-width="0.9"/>
<line x1="258.1" y1="584" x2="258.1" y2="602" stroke="#ffffff" stroke-width="0.9"/>
<line x1="211.7" y1="598" x2="274.7" y2="598" stroke="#ffffff" stroke-width="0.9"/>
<text x="231" y="596.8" font-size="16.11" font-weight="bold" fill="#ffffff" textLength="6.5" lengthAdjust="spacingAndGlyphs">4</text>
<text x="246.75" y="596.8" font-size="16.11" font-weight="bold" fill="#ffffff" textLength="6.5" lengthAdjust="spacingAndGlyphs">5</text>
<text x="263.15" y="596.8" font-size="16.11" font-weight="bold" fill="#ffffff" textLength="6.5" lengthAdjust="spacingAndGlyphs">6</text>
<rect x="238.75" y="551" width="25" height="25.6" fill="#231f20" />
<text x="238" y="580" font-size="25" font-weight="bold" fill="#ffffff" stroke="#ffffff" stroke-width="4.4" stroke-linejoin="round" textLength="9" lengthAdjust="spacingAndGlyphs">9</text><text x="238" y="580" font-size="25" font-weight="bold" fill="#231f20" textLength="9" lengthAdjust="spacingAndGlyphs">9</text>
<rect x="311.6" y="573.3" width="165.2" height="13.5" fill="#231f20" />
<text x="334.4" y="593" font-size="25" font-weight="bold" fill="#ffffff" stroke="#ffffff" stroke-width="4.4" stroke-linejoin="round" textLength="18" lengthAdjust="spacingAndGlyphs">10</text><text x="334.4" y="593" font-size="25" font-weight="bold" fill="#231f20" textLength="18" lengthAdjust="spacingAndGlyphs">10</text>
<text x="385" y="593" font-size="25" font-weight="bold" fill="#ffffff" stroke="#ffffff" stroke-width="4.4" stroke-linejoin="round" textLength="17" lengthAdjust="spacingAndGlyphs">11</text><text x="385" y="593" font-size="25" font-weight="bold" fill="#231f20" textLength="17" lengthAdjust="spacingAndGlyphs">11</text>
<text x="438.7" y="593" font-size="25" font-weight="bold" fill="#ffffff" stroke="#ffffff" stroke-width="4.4" stroke-linejoin="round" textLength="19" lengthAdjust="spacingAndGlyphs">12</text><text x="438.7" y="593" font-size="25" font-weight="bold" fill="#231f20" textLength="19" lengthAdjust="spacingAndGlyphs">12</text>
<rect x="318" y="595" width="153" height="17.2" fill="#10a04a" />
<line x1="333.3" y1="595" x2="333.3" y2="612.2" stroke="#ffffff" stroke-width="0.9"/>
<line x1="348.6" y1="595" x2="348.6" y2="612.2" stroke="#ffffff" stroke-width="0.9"/>
<line x1="363.9" y1="595" x2="363.9" y2="612.2" stroke="#ffffff" stroke-width="0.9"/>
<line x1="379.2" y1="595" x2="379.2" y2="612.2" stroke="#ffffff" stroke-width="0.9"/>
<line x1="394.5" y1="595" x2="394.5" y2="612.2" stroke="#ffffff" stroke-width="0.9"/>
<line x1="409.8" y1="595" x2="409.8" y2="612.2" stroke="#ffffff" stroke-width="0.9"/>
<line x1="425.1" y1="595" x2="425.1" y2="612.2" stroke="#ffffff" stroke-width="0.9"/>
<line x1="440.4" y1="595" x2="440.4" y2="612.2" stroke="#ffffff" stroke-width="0.9"/>
<line x1="455.7" y1="595" x2="455.7" y2="612.2" stroke="#ffffff" stroke-width="0.9"/>
<line x1="318" y1="608.2" x2="471" y2="608.2" stroke="#ffffff" stroke-width="0.9"/>
<text x="322.4" y="607.4" font-size="16.11" font-weight="bold" fill="#ffffff" textLength="6.5" lengthAdjust="spacingAndGlyphs">1</text>
<text x="337.7" y="607.4" font-size="16.11" font-weight="bold" fill="#ffffff" textLength="6.5" lengthAdjust="spacingAndGlyphs">2</text>
<text x="353" y="607.4" font-size="16.11" font-weight="bold" fill="#ffffff" textLength="6.5" lengthAdjust="spacingAndGlyphs">3</text>
<text x="368.3" y="607.4" font-size="16.11" font-weight="bold" fill="#ffffff" textLength="6.5" lengthAdjust="spacingAndGlyphs">1</text>
<text x="383.6" y="607.4" font-size="16.11" font-weight="bold" fill="#ffffff" textLength="6.5" lengthAdjust="spacingAndGlyphs">2</text>
<text x="398.9" y="607.4" font-size="16.11" font-weight="bold" fill="#ffffff" textLength="6.5" lengthAdjust="spacingAndGlyphs">3</text>
<text x="414.2" y="607.4" font-size="16.11" font-weight="bold" fill="#ffffff" textLength="6.5" lengthAdjust="spacingAndGlyphs">4</text>
<text x="429.5" y="607.4" font-size="16.11" font-weight="bold" fill="#ffffff" textLength="6.5" lengthAdjust="spacingAndGlyphs">1</text>
<text x="444.8" y="607.4" font-size="16.11" font-weight="bold" fill="#ffffff" textLength="6.5" lengthAdjust="spacingAndGlyphs">2</text>
<text x="460.1" y="607.4" font-size="16.11" font-weight="bold" fill="#ffffff" textLength="6.5" lengthAdjust="spacingAndGlyphs">3</text>
<rect x="567.7" y="534.8" width="16.8" height="45.4" fill="#10a04a" />
<line x1="567.7" y1="549.2" x2="584.5" y2="549.2" stroke="#ffffff" stroke-width="0.9"/>
<line x1="567.7" y1="565.3" x2="584.5" y2="565.3" stroke="#ffffff" stroke-width="0.9"/>
<line x1="580.5" y1="534.8" x2="580.5" y2="580.2" stroke="#ffffff" stroke-width="0.9"/>
<text x="571.08" y="547.4" font-size="15" font-weight="bold" fill="#ffffff" textLength="6.05" lengthAdjust="spacingAndGlyphs">1</text>
<text x="570.85" y="563.05" font-size="16.11" font-weight="bold" fill="#ffffff" textLength="6.5" lengthAdjust="spacingAndGlyphs">2</text>
<text x="570.97" y="578.34" font-size="15.52" font-weight="bold" fill="#ffffff" textLength="6.26" lengthAdjust="spacingAndGlyphs">3</text>
<rect x="524.4" y="580.2" width="60.1" height="17.1" fill="#10a04a" />
<line x1="539.2" y1="580.2" x2="539.2" y2="597.3" stroke="#ffffff" stroke-width="0.9"/>
<line x1="553.75" y1="580.2" x2="553.75" y2="597.3" stroke="#ffffff" stroke-width="0.9"/>
<line x1="569.4" y1="580.2" x2="569.4" y2="597.3" stroke="#ffffff" stroke-width="0.9"/>
<line x1="524.4" y1="593.3" x2="584.5" y2="593.3" stroke="#ffffff" stroke-width="0.9"/>
<text x="528.55" y="592.55" font-size="16.11" font-weight="bold" fill="#ffffff" textLength="6.5" lengthAdjust="spacingAndGlyphs">6</text>
<text x="543.23" y="592.55" font-size="16.11" font-weight="bold" fill="#ffffff" textLength="6.5" lengthAdjust="spacingAndGlyphs">5</text>
<text x="558.33" y="592.55" font-size="16.11" font-weight="bold" fill="#ffffff" textLength="6.5" lengthAdjust="spacingAndGlyphs">4</text>
<rect x="531.9" y="545.3" width="25" height="25.95" fill="#231f20" />
<text x="541.3" y="573.3" font-size="25" font-weight="bold" fill="#ffffff" stroke="#ffffff" stroke-width="4.4" stroke-linejoin="round" textLength="18" lengthAdjust="spacingAndGlyphs">13</text><text x="541.3" y="573.3" font-size="25" font-weight="bold" fill="#231f20" textLength="18" lengthAdjust="spacingAndGlyphs">13</text>
<rect x="213.75" y="609" width="17.25" height="31.3" fill="#10a04a" />
<line x1="213.75" y1="624.65" x2="231" y2="624.65" stroke="#ffffff" stroke-width="0.9"/>
<line x1="217.75" y1="609" x2="217.75" y2="640.3" stroke="#ffffff" stroke-width="0.9"/>
<text x="221.13" y="622.62" font-size="16.11" font-weight="bold" fill="#ffffff" textLength="6.5" lengthAdjust="spacingAndGlyphs">1</text>
<text x="221.13" y="638.27" font-size="16.11" font-weight="bold" fill="#ffffff" textLength="6.5" lengthAdjust="spacingAndGlyphs">2</text>
<rect x="213.75" y="640.3" width="61.25" height="18" fill="#10a04a" />
<line x1="228.9" y1="640.3" x2="228.9" y2="658.3" stroke="#ffffff" stroke-width="0.9"/>
<line x1="243.75" y1="640.3" x2="243.75" y2="658.3" stroke="#ffffff" stroke-width="0.9"/>
<line x1="259.4" y1="640.3" x2="259.4" y2="658.3" stroke="#ffffff" stroke-width="0.9"/>
<line x1="213.75" y1="654.3" x2="275" y2="654.3" stroke="#ffffff" stroke-width="0.9"/>
<text x="233.08" y="653.1" font-size="16.11" font-weight="bold" fill="#ffffff" textLength="6.5" lengthAdjust="spacingAndGlyphs">3</text>
<text x="248.33" y="653.1" font-size="16.11" font-weight="bold" fill="#ffffff" textLength="6.5" lengthAdjust="spacingAndGlyphs">4</text>
<text x="263.95" y="653.1" font-size="16.11" font-weight="bold" fill="#ffffff" textLength="6.5" lengthAdjust="spacingAndGlyphs">5</text>
<rect x="238.75" y="609" width="25" height="25" fill="#231f20" />
<text x="234.3" y="636" font-size="25" font-weight="bold" fill="#ffffff" stroke="#ffffff" stroke-width="4.4" stroke-linejoin="round" textLength="20" lengthAdjust="spacingAndGlyphs">43</text><text x="234.3" y="636" font-size="25" font-weight="bold" fill="#231f20" textLength="20" lengthAdjust="spacingAndGlyphs">43</text>
<rect x="301.6" y="618.5" width="86.4" height="13.5" fill="#231f20" />
<text x="331" y="639" font-size="26.39" font-weight="bold" fill="#ffffff" stroke="#ffffff" stroke-width="4.4" stroke-linejoin="round" textLength="19" lengthAdjust="spacingAndGlyphs">42</text><text x="331" y="639" font-size="26.39" font-weight="bold" fill="#231f20" textLength="19" lengthAdjust="spacingAndGlyphs">42</text>
<rect x="299.2" y="640.3" width="78.8" height="18" fill="#10a04a" />
<line x1="314.96" y1="640.3" x2="314.96" y2="658.3" stroke="#ffffff" stroke-width="0.9"/>
<line x1="330.72" y1="640.3" x2="330.72" y2="658.3" stroke="#ffffff" stroke-width="0.9"/>
<line x1="346.48" y1="640.3" x2="346.48" y2="658.3" stroke="#ffffff" stroke-width="0.9"/>
<line x1="362.24" y1="640.3" x2="362.24" y2="658.3" stroke="#ffffff" stroke-width="0.9"/>
<line x1="299.2" y1="654.3" x2="378" y2="654.3" stroke="#ffffff" stroke-width="0.9"/>
<text x="303.83" y="653.1" font-size="16.11" font-weight="bold" fill="#ffffff" textLength="6.5" lengthAdjust="spacingAndGlyphs">1</text>
<text x="319.59" y="653.1" font-size="16.11" font-weight="bold" fill="#ffffff" textLength="6.5" lengthAdjust="spacingAndGlyphs">2</text>
<text x="335.35" y="653.1" font-size="16.11" font-weight="bold" fill="#ffffff" textLength="6.5" lengthAdjust="spacingAndGlyphs">3</text>
<text x="351.11" y="653.1" font-size="16.11" font-weight="bold" fill="#ffffff" textLength="6.5" lengthAdjust="spacingAndGlyphs">4</text>
<text x="366.87" y="653.1" font-size="16.11" font-weight="bold" fill="#ffffff" textLength="6.5" lengthAdjust="spacingAndGlyphs">5</text>
<rect x="401.6" y="617.7" width="88.9" height="12.7" fill="#231f20" />
<text x="417" y="638.5" font-size="26.39" font-weight="bold" fill="#ffffff" stroke="#ffffff" stroke-width="4.4" stroke-linejoin="round" textLength="17.6" lengthAdjust="spacingAndGlyphs">41</text><text x="417" y="638.5" font-size="26.39" font-weight="bold" fill="#231f20" textLength="17.6" lengthAdjust="spacingAndGlyphs">41</text>
<text x="456" y="638.5" font-size="26.39" font-weight="bold" fill="#ffffff" stroke="#ffffff" stroke-width="4.4" stroke-linejoin="round" textLength="19" lengthAdjust="spacingAndGlyphs">40</text><text x="456" y="638.5" font-size="26.39" font-weight="bold" fill="#231f20" textLength="19" lengthAdjust="spacingAndGlyphs">40</text>
<rect x="409" y="639" width="79.8" height="18" fill="#10a04a" />
<line x1="424.96" y1="639" x2="424.96" y2="657" stroke="#ffffff" stroke-width="0.9"/>
<line x1="440.92" y1="639" x2="440.92" y2="657" stroke="#ffffff" stroke-width="0.9"/>
<line x1="456.88" y1="639" x2="456.88" y2="657" stroke="#ffffff" stroke-width="0.9"/>
<line x1="472.84" y1="639" x2="472.84" y2="657" stroke="#ffffff" stroke-width="0.9"/>
<line x1="409" y1="653" x2="488.8" y2="653" stroke="#ffffff" stroke-width="0.9"/>
<text x="413.73" y="651.8" font-size="16.11" font-weight="bold" fill="#ffffff" textLength="6.5" lengthAdjust="spacingAndGlyphs">1</text>
<text x="429.69" y="651.8" font-size="16.11" font-weight="bold" fill="#ffffff" textLength="6.5" lengthAdjust="spacingAndGlyphs">2</text>
<text x="445.65" y="651.8" font-size="16.11" font-weight="bold" fill="#ffffff" textLength="6.5" lengthAdjust="spacingAndGlyphs">1</text>
<text x="461.61" y="651.8" font-size="16.11" font-weight="bold" fill="#ffffff" textLength="6.5" lengthAdjust="spacingAndGlyphs">2</text>
<text x="477.57" y="651.8" font-size="16.11" font-weight="bold" fill="#ffffff" textLength="6.5" lengthAdjust="spacingAndGlyphs">3</text>
<rect x="566.1" y="605.9" width="18.4" height="32.85" fill="#10a04a" />
<line x1="566.1" y1="622.33" x2="584.5" y2="622.33" stroke="#ffffff" stroke-width="0.9"/>
<line x1="580.5" y1="605.9" x2="580.5" y2="638.75" stroke="#ffffff" stroke-width="0.9"/>
<text x="570.05" y="619.91" font-size="16.11" font-weight="bold" fill="#ffffff" textLength="6.5" lengthAdjust="spacingAndGlyphs">1</text>
<text x="570.05" y="636.34" font-size="16.11" font-weight="bold" fill="#ffffff" textLength="6.5" lengthAdjust="spacingAndGlyphs">2</text>
<rect x="520.5" y="638.75" width="64" height="17.95" fill="#10a04a" />
<line x1="535.3" y1="638.75" x2="535.3" y2="656.7" stroke="#ffffff" stroke-width="0.9"/>
<line x1="551.4" y1="638.75" x2="551.4" y2="656.7" stroke="#ffffff" stroke-width="0.9"/>
<line x1="567.3" y1="638.75" x2="567.3" y2="656.7" stroke="#ffffff" stroke-width="0.9"/>
<line x1="520.5" y1="652.7" x2="584.5" y2="652.7" stroke="#ffffff" stroke-width="0.9"/>
<text x="524.65" y="651.52" font-size="16.11" font-weight="bold" fill="#ffffff" textLength="6.5" lengthAdjust="spacingAndGlyphs">5</text>
<text x="540.1" y="651.52" font-size="16.11" font-weight="bold" fill="#ffffff" textLength="6.5" lengthAdjust="spacingAndGlyphs">4</text>
<text x="556.1" y="651.52" font-size="16.11" font-weight="bold" fill="#ffffff" textLength="6.5" lengthAdjust="spacingAndGlyphs">3</text>
<rect x="531.9" y="607.5" width="25" height="25" fill="#231f20" />
<text x="541.3" y="634.3" font-size="25" font-weight="bold" fill="#ffffff" stroke="#ffffff" stroke-width="4.4" stroke-linejoin="round" textLength="18" lengthAdjust="spacingAndGlyphs">39</text><text x="541.3" y="634.3" font-size="25" font-weight="bold" fill="#231f20" textLength="18" lengthAdjust="spacingAndGlyphs">39</text>
<circle cx="233.8" cy="672.6" r="9.5" fill="#231f20"/>
<circle cx="254.6" cy="672.6" r="9.5" fill="#231f20"/>
<circle cx="223.4" cy="684" r="4.4" fill="#fedd00"/>
<circle cx="235" cy="687.8" r="4.4" fill="#fedd00"/>
<circle cx="253.9" cy="687.8" r="4.4" fill="#fedd00"/>
<circle cx="265.6" cy="684" r="4.4" fill="#fedd00"/>
<circle cx="320.7" cy="672.6" r="9.5" fill="#231f20"/>
<circle cx="341" cy="672.6" r="9.5" fill="#231f20"/>
<circle cx="309.8" cy="684" r="4.4" fill="#fedd00"/>
<circle cx="321.5" cy="687.8" r="4.4" fill="#fedd00"/>
<circle cx="339.8" cy="687.8" r="4.4" fill="#fedd00"/>
<circle cx="352" cy="684" r="4.4" fill="#fedd00"/>
<circle cx="444.8" cy="672.3" r="9.5" fill="#231f20"/>
<circle cx="465" cy="672.3" r="9.5" fill="#231f20"/>
<circle cx="433.9" cy="683.2" r="4.4" fill="#fedd00"/>
<circle cx="445.3" cy="688" r="4.4" fill="#fedd00"/>
<circle cx="463.9" cy="688" r="4.4" fill="#fedd00"/>
<circle cx="476" cy="683.2" r="4.4" fill="#fedd00"/>
<circle cx="552" cy="676.9" r="14" fill="#231f20"/>
<circle cx="540.6" cy="694" r="4.6" fill="#fedd00"/>
<circle cx="552.3" cy="697.2" r="4.6" fill="#fedd00"/>
<circle cx="563.5" cy="694" r="4.6" fill="#fedd00"/>
<text x="235.5" y="716" font-size="25" font-weight="bold" fill="#231f20" textLength="18" lengthAdjust="spacingAndGlyphs">67</text>
<text x="322" y="716" font-size="25" font-weight="bold" fill="#231f20" textLength="18" lengthAdjust="spacingAndGlyphs">68</text>
<text x="446" y="717" font-size="25" font-weight="bold" fill="#231f20" textLength="18" lengthAdjust="spacingAndGlyphs">69</text>
<text x="543.8" y="726" font-size="25" font-weight="bold" fill="#231f20" textLength="18" lengthAdjust="spacingAndGlyphs">70</text>
<text x="141.95" y="696.25" font-size="15.97" font-weight="bold" fill="#231f20" textLength="25.7" lengthAdjust="spacingAndGlyphs">ВХОД</text>
<text x="174.3" y="864.6" font-size="13.89" font-weight="bold" fill="#231f20" textLength="14.2" lengthAdjust="spacingAndGlyphs">WC</text>
<rect x="613.7" y="39" width="55.1" height="26" fill="#e31d25" />
<line x1="632.07" y1="39" x2="632.07" y2="65" stroke="#ffffff" stroke-width="0.9"/>
<line x1="650.43" y1="39" x2="650.43" y2="65" stroke="#ffffff" stroke-width="0.9"/>
<line x1="613.7" y1="43" x2="668.8" y2="43" stroke="#ffffff" stroke-width="0.9"/>
<text x="619.64" y="59.8" font-size="16.11" font-weight="bold" fill="#ffffff" textLength="6.5" lengthAdjust="spacingAndGlyphs">9</text>
<text x="638" y="59.8" font-size="16.11" font-weight="bold" fill="#ffffff" textLength="6.5" lengthAdjust="spacingAndGlyphs">8</text>
<text x="656.37" y="59.8" font-size="16.11" font-weight="bold" fill="#ffffff" textLength="6.5" lengthAdjust="spacingAndGlyphs">7</text>
<rect x="613.7" y="73" width="48.3" height="24.5" fill="#231f20" />
<text x="633" y="103.5" font-size="26.39" font-weight="bold" fill="#ffffff" stroke="#ffffff" stroke-width="4.4" stroke-linejoin="round" textLength="20" lengthAdjust="spacingAndGlyphs">19</text><text x="633" y="103.5" font-size="26.39" font-weight="bold" fill="#231f20" textLength="20" lengthAdjust="spacingAndGlyphs">19</text>
<rect x="613.7" y="109" width="55.1" height="26" fill="#e31d25" />
<line x1="632.07" y1="109" x2="632.07" y2="135" stroke="#ffffff" stroke-width="0.9"/>
<line x1="650.43" y1="109" x2="650.43" y2="135" stroke="#ffffff" stroke-width="0.9"/>
<line x1="613.7" y1="131" x2="668.8" y2="131" stroke="#ffffff" stroke-width="0.9"/>
<text x="619.64" y="125.8" font-size="16.11" font-weight="bold" fill="#ffffff" textLength="6.5" lengthAdjust="spacingAndGlyphs">1</text>
<text x="638" y="125.8" font-size="16.11" font-weight="bold" fill="#ffffff" textLength="6.5" lengthAdjust="spacingAndGlyphs">2</text>
<text x="656.37" y="125.8" font-size="16.11" font-weight="bold" fill="#ffffff" textLength="6.5" lengthAdjust="spacingAndGlyphs">3</text>
<rect x="673.4" y="58" width="25.4" height="54.8" fill="#e31d25" />
<line x1="673.4" y1="76.27" x2="698.8" y2="76.27" stroke="#ffffff" stroke-width="0.9"/>
<line x1="673.4" y1="94.53" x2="698.8" y2="94.53" stroke="#ffffff" stroke-width="0.9"/>
<line x1="694.8" y1="58" x2="694.8" y2="112.8" stroke="#ffffff" stroke-width="0.9"/>
<text x="680.85" y="72.93" font-size="16.11" font-weight="bold" fill="#ffffff" textLength="6.5" lengthAdjust="spacingAndGlyphs">6</text>
<text x="680.85" y="91.2" font-size="16.11" font-weight="bold" fill="#ffffff" textLength="6.5" lengthAdjust="spacingAndGlyphs">5</text>
<text x="680.85" y="109.47" font-size="16.11" font-weight="bold" fill="#ffffff" textLength="6.5" lengthAdjust="spacingAndGlyphs">4</text>
<rect x="626.4" y="139.4" width="13.6" height="62.3" fill="#231f20" />
<rect x="650.5" y="139" width="18.3" height="62.7" fill="#e31d25" />
<line x1="650.5" y1="154.68" x2="668.8" y2="154.68" stroke="#ffffff" stroke-width="0.9"/>
<line x1="650.5" y1="170.35" x2="668.8" y2="170.35" stroke="#ffffff" stroke-width="0.9"/>
<line x1="650.5" y1="186.02" x2="668.8" y2="186.02" stroke="#ffffff" stroke-width="0.9"/>
<line x1="664.8" y1="139" x2="664.8" y2="201.7" stroke="#ffffff" stroke-width="0.9"/>
<text x="654.4" y="152.64" font-size="16.11" font-weight="bold" fill="#ffffff" textLength="6.5" lengthAdjust="spacingAndGlyphs">4</text>
<text x="654.4" y="168.31" font-size="16.11" font-weight="bold" fill="#ffffff" textLength="6.5" lengthAdjust="spacingAndGlyphs">3</text>
<text x="654.4" y="183.99" font-size="16.11" font-weight="bold" fill="#ffffff" textLength="6.5" lengthAdjust="spacingAndGlyphs">2</text>
<text x="654.4" y="199.66" font-size="16.11" font-weight="bold" fill="#ffffff" textLength="6.5" lengthAdjust="spacingAndGlyphs">1</text>
<text x="633" y="177.5" font-size="26.39" font-weight="bold" fill="#ffffff" stroke="#ffffff" stroke-width="4.4" stroke-linejoin="round" textLength="19" lengthAdjust="spacingAndGlyphs">18</text><text x="633" y="177.5" font-size="26.39" font-weight="bold" fill="#231f20" textLength="19" lengthAdjust="spacingAndGlyphs">18</text>
<rect x="728.8" y="39" width="22.2" height="34.4" fill="#e31d25" />
<line x1="728.8" y1="56.2" x2="751" y2="56.2" stroke="#ffffff" stroke-width="0.9"/>
<line x1="747" y1="39" x2="747" y2="73.4" stroke="#ffffff" stroke-width="0.9"/>
<text x="734.65" y="53.4" font-size="16.11" font-weight="bold" fill="#ffffff" textLength="6.5" lengthAdjust="spacingAndGlyphs">4</text>
<text x="734.65" y="70.6" font-size="16.11" font-weight="bold" fill="#ffffff" textLength="6.5" lengthAdjust="spacingAndGlyphs">3</text>
<rect x="724" y="74" width="27.7" height="17" fill="#231f20" />
<text x="711" y="96" font-size="26.39" font-weight="bold" fill="#ffffff" stroke="#ffffff" stroke-width="4.4" stroke-linejoin="round" textLength="18" lengthAdjust="spacingAndGlyphs">20</text><text x="711" y="96" font-size="26.39" font-weight="bold" fill="#231f20" textLength="18" lengthAdjust="spacingAndGlyphs">20</text>
<rect x="728.8" y="92.4" width="22.2" height="34.3" fill="#e31d25" />
<line x1="728.8" y1="109.55" x2="751" y2="109.55" stroke="#ffffff" stroke-width="0.9"/>
<line x1="747" y1="92.4" x2="747" y2="126.7" stroke="#ffffff" stroke-width="0.9"/>
<text x="734.65" y="106.78" font-size="16.11" font-weight="bold" fill="#ffffff" textLength="6.5" lengthAdjust="spacingAndGlyphs">2</text>
<text x="734.65" y="123.92" font-size="16.11" font-weight="bold" fill="#ffffff" textLength="6.5" lengthAdjust="spacingAndGlyphs">1</text>
<rect x="730.6" y="143" width="20.4" height="30.7" fill="#e31d25" />
<line x1="730.6" y1="158.35" x2="751" y2="158.35" stroke="#ffffff" stroke-width="0.9"/>
<line x1="747" y1="143" x2="747" y2="173.7" stroke="#ffffff" stroke-width="0.9"/>
<text x="735.58" y="156.43" font-size="15.99" font-weight="bold" fill="#ffffff" textLength="6.45" lengthAdjust="spacingAndGlyphs">1</text>
<text x="735.58" y="171.78" font-size="15.99" font-weight="bold" fill="#ffffff" textLength="6.45" lengthAdjust="spacingAndGlyphs">2</text>
<rect x="704" y="151" width="13" height="340.8" fill="#231f20" />
<text x="709" y="166" font-size="26.39" font-weight="bold" fill="#ffffff" stroke="#ffffff" stroke-width="4.4" stroke-linejoin="round" textLength="18" lengthAdjust="spacingAndGlyphs">21</text><text x="709" y="166" font-size="26.39" font-weight="bold" fill="#231f20" textLength="18" lengthAdjust="spacingAndGlyphs">21</text>
<rect x="730.6" y="192" width="20.4" height="31" fill="#fedd00" />
<line x1="730.6" y1="207.5" x2="751" y2="207.5" stroke="#ffec80" stroke-width="0.9"/>
<line x1="747" y1="192" x2="747" y2="223" stroke="#ffec80" stroke-width="0.9"/>
<text x="735.55" y="205.55" font-size="16.11" font-weight="bold" fill="#231f20" textLength="6.5" lengthAdjust="spacingAndGlyphs">1</text>
<text x="735.55" y="221.05" font-size="16.11" font-weight="bold" fill="#231f20" textLength="6.5" lengthAdjust="spacingAndGlyphs">2</text>
<text x="706.5" y="217" font-size="26.39" font-weight="bold" fill="#ffffff" stroke="#ffffff" stroke-width="4.4" stroke-linejoin="round" textLength="20" lengthAdjust="spacingAndGlyphs">22</text><text x="706.5" y="217" font-size="26.39" font-weight="bold" fill="#231f20" textLength="20" lengthAdjust="spacingAndGlyphs">22</text>
<rect x="730.6" y="241.3" width="20.4" height="31" fill="#fedd00" />
<line x1="730.6" y1="256.8" x2="751" y2="256.8" stroke="#ffec80" stroke-width="0.9"/>
<line x1="747" y1="241.3" x2="747" y2="272.3" stroke="#ffec80" stroke-width="0.9"/>
<text x="735.55" y="254.85" font-size="16.11" font-weight="bold" fill="#231f20" textLength="6.5" lengthAdjust="spacingAndGlyphs">1</text>
<text x="735.55" y="270.35" font-size="16.11" font-weight="bold" fill="#231f20" textLength="6.5" lengthAdjust="spacingAndGlyphs">2</text>
<text x="706.5" y="266.3" font-size="26.39" font-weight="bold" fill="#ffffff" stroke="#ffffff" stroke-width="4.4" stroke-linejoin="round" textLength="20" lengthAdjust="spacingAndGlyphs">23</text><text x="706.5" y="266.3" font-size="26.39" font-weight="bold" fill="#231f20" textLength="20" lengthAdjust="spacingAndGlyphs">23</text>
<rect x="730.6" y="290.6" width="20.4" height="31" fill="#fedd00" />
<line x1="730.6" y1="306.1" x2="751" y2="306.1" stroke="#ffec80" stroke-width="0.9"/>
<line x1="747" y1="290.6" x2="747" y2="321.6" stroke="#ffec80" stroke-width="0.9"/>
<text x="735.55" y="304.15" font-size="16.11" font-weight="bold" fill="#231f20" textLength="6.5" lengthAdjust="spacingAndGlyphs">1</text>
<text x="735.55" y="319.65" font-size="16.11" font-weight="bold" fill="#231f20" textLength="6.5" lengthAdjust="spacingAndGlyphs">2</text>
<text x="706.5" y="315.6" font-size="26.39" font-weight="bold" fill="#ffffff" stroke="#ffffff" stroke-width="4.4" stroke-linejoin="round" textLength="20" lengthAdjust="spacingAndGlyphs">24</text><text x="706.5" y="315.6" font-size="26.39" font-weight="bold" fill="#231f20" textLength="20" lengthAdjust="spacingAndGlyphs">24</text>
<rect x="730.6" y="339.9" width="20.4" height="31" fill="#fedd00" />
<line x1="730.6" y1="355.4" x2="751" y2="355.4" stroke="#ffec80" stroke-width="0.9"/>
<line x1="747" y1="339.9" x2="747" y2="370.9" stroke="#ffec80" stroke-width="0.9"/>
<text x="735.55" y="353.45" font-size="16.11" font-weight="bold" fill="#231f20" textLength="6.5" lengthAdjust="spacingAndGlyphs">1</text>
<text x="735.55" y="368.95" font-size="16.11" font-weight="bold" fill="#231f20" textLength="6.5" lengthAdjust="spacingAndGlyphs">2</text>
<text x="706.5" y="364.9" font-size="26.39" font-weight="bold" fill="#ffffff" stroke="#ffffff" stroke-width="4.4" stroke-linejoin="round" textLength="20" lengthAdjust="spacingAndGlyphs">25</text><text x="706.5" y="364.9" font-size="26.39" font-weight="bold" fill="#231f20" textLength="20" lengthAdjust="spacingAndGlyphs">25</text>
<rect x="730.6" y="389.2" width="20.4" height="31" fill="#fedd00" />
<line x1="730.6" y1="404.7" x2="751" y2="404.7" stroke="#ffec80" stroke-width="0.9"/>
<line x1="747" y1="389.2" x2="747" y2="420.2" stroke="#ffec80" stroke-width="0.9"/>
<text x="735.55" y="402.75" font-size="16.11" font-weight="bold" fill="#231f20" textLength="6.5" lengthAdjust="spacingAndGlyphs">1</text>
<text x="735.55" y="418.25" font-size="16.11" font-weight="bold" fill="#231f20" textLength="6.5" lengthAdjust="spacingAndGlyphs">2</text>
<text x="706.5" y="414.2" font-size="26.39" font-weight="bold" fill="#ffffff" stroke="#ffffff" stroke-width="4.4" stroke-linejoin="round" textLength="20" lengthAdjust="spacingAndGlyphs">26</text><text x="706.5" y="414.2" font-size="26.39" font-weight="bold" fill="#231f20" textLength="20" lengthAdjust="spacingAndGlyphs">26</text>
<rect x="730.6" y="438.5" width="20.4" height="31" fill="#fedd00" />
<line x1="730.6" y1="454" x2="751" y2="454" stroke="#ffec80" stroke-width="0.9"/>
<line x1="747" y1="438.5" x2="747" y2="469.5" stroke="#ffec80" stroke-width="0.9"/>
<text x="735.55" y="452.05" font-size="16.11" font-weight="bold" fill="#231f20" textLength="6.5" lengthAdjust="spacingAndGlyphs">1</text>
<text x="735.55" y="467.55" font-size="16.11" font-weight="bold" fill="#231f20" textLength="6.5" lengthAdjust="spacingAndGlyphs">2</text>
<text x="706.5" y="463.5" font-size="26.39" font-weight="bold" fill="#ffffff" stroke="#ffffff" stroke-width="4.4" stroke-linejoin="round" textLength="20" lengthAdjust="spacingAndGlyphs">27</text><text x="706.5" y="463.5" font-size="26.39" font-weight="bold" fill="#231f20" textLength="20" lengthAdjust="spacingAndGlyphs">27</text>
<rect x="730.6" y="487.8" width="20.4" height="31" fill="#fedd00" />
<line x1="730.6" y1="503.3" x2="751" y2="503.3" stroke="#ffec80" stroke-width="0.9"/>
<line x1="747" y1="487.8" x2="747" y2="518.8" stroke="#ffec80" stroke-width="0.9"/>
<text x="735.55" y="501.35" font-size="16.11" font-weight="bold" fill="#231f20" textLength="6.5" lengthAdjust="spacingAndGlyphs">1</text>
<text x="735.55" y="516.85" font-size="16.11" font-weight="bold" fill="#231f20" textLength="6.5" lengthAdjust="spacingAndGlyphs">2</text>
<text x="706.5" y="512.8" font-size="26.39" font-weight="bold" fill="#ffffff" stroke="#ffffff" stroke-width="4.4" stroke-linejoin="round" textLength="20" lengthAdjust="spacingAndGlyphs">28</text><text x="706.5" y="512.8" font-size="26.39" font-weight="bold" fill="#231f20" textLength="20" lengthAdjust="spacingAndGlyphs">28</text>
<g transform="translate(637.8 233.35) rotate(-45)">
<rect x="-31.5" y="-6.25" width="63" height="12.5" fill="#231f20" />
</g>
<g transform="translate(658.5 253) rotate(-44.5)">
<rect x="-31.5" y="-8.75" width="63" height="17.5" fill="#10a04a" />
<line x1="-15.75" y1="-8.75" x2="-15.75" y2="8.75" stroke="#ffffff" stroke-width="0.9"/>
<line x1="0" y1="-8.75" x2="0" y2="8.75" stroke="#ffffff" stroke-width="0.9"/>
<line x1="15.75" y1="-8.75" x2="15.75" y2="8.75" stroke="#ffffff" stroke-width="0.9"/>
<line x1="-31.5" y1="5.75" x2="31.5" y2="5.75" stroke="#ffffff" stroke-width="0.9"/>
</g>
<text x="637.6" y="273.74" font-size="14.58" font-weight="bold" fill="#ffffff" textLength="6" lengthAdjust="spacingAndGlyphs">1</text>
<text x="648.83" y="262.7" font-size="14.58" font-weight="bold" fill="#ffffff" textLength="6" lengthAdjust="spacingAndGlyphs">2</text>
<text x="660.07" y="251.66" font-size="14.58" font-weight="bold" fill="#ffffff" textLength="6" lengthAdjust="spacingAndGlyphs">3</text>
<text x="671.3" y="240.62" font-size="14.58" font-weight="bold" fill="#ffffff" textLength="6" lengthAdjust="spacingAndGlyphs">4</text>
<text x="632.5" y="250.5" font-size="26.39" font-weight="bold" fill="#ffffff" stroke="#ffffff" stroke-width="4.4" stroke-linejoin="round" textLength="18" lengthAdjust="spacingAndGlyphs">17</text><text x="632.5" y="250.5" font-size="26.39" font-weight="bold" fill="#231f20" textLength="18" lengthAdjust="spacingAndGlyphs">17</text>
<g transform="translate(637.8 295.65) rotate(-45)">
<rect x="-31.5" y="-6.25" width="63" height="12.5" fill="#231f20" />
</g>
<g transform="translate(658.5 315.3) rotate(-44.5)">
<rect x="-31.5" y="-8.75" width="63" height="17.5" fill="#10a04a" />
<line x1="-15.75" y1="-8.75" x2="-15.75" y2="8.75" stroke="#ffffff" stroke-width="0.9"/>
<line x1="0" y1="-8.75" x2="0" y2="8.75" stroke="#ffffff" stroke-width="0.9"/>
<line x1="15.75" y1="-8.75" x2="15.75" y2="8.75" stroke="#ffffff" stroke-width="0.9"/>
<line x1="-31.5" y1="5.75" x2="31.5" y2="5.75" stroke="#ffffff" stroke-width="0.9"/>
</g>
<text x="637.6" y="336.04" font-size="14.58" font-weight="bold" fill="#ffffff" textLength="6" lengthAdjust="spacingAndGlyphs">1</text>
<text x="648.83" y="325" font-size="14.58" font-weight="bold" fill="#ffffff" textLength="6" lengthAdjust="spacingAndGlyphs">2</text>
<text x="660.07" y="313.96" font-size="14.58" font-weight="bold" fill="#ffffff" textLength="6" lengthAdjust="spacingAndGlyphs">3</text>
<text x="671.3" y="302.92" font-size="14.58" font-weight="bold" fill="#ffffff" textLength="6" lengthAdjust="spacingAndGlyphs">4</text>
<text x="632.5" y="311.3" font-size="26.39" font-weight="bold" fill="#ffffff" stroke="#ffffff" stroke-width="4.4" stroke-linejoin="round" textLength="18" lengthAdjust="spacingAndGlyphs">16</text><text x="632.5" y="311.3" font-size="26.39" font-weight="bold" fill="#231f20" textLength="18" lengthAdjust="spacingAndGlyphs">16</text>
<g transform="translate(637.8 357.95) rotate(-45)">
<rect x="-31.5" y="-6.25" width="63" height="12.5" fill="#231f20" />
</g>
<g transform="translate(658.5 377.6) rotate(-44.5)">
<rect x="-31.5" y="-8.75" width="63" height="17.5" fill="#10a04a" />
<line x1="-15.75" y1="-8.75" x2="-15.75" y2="8.75" stroke="#ffffff" stroke-width="0.9"/>
<line x1="0" y1="-8.75" x2="0" y2="8.75" stroke="#ffffff" stroke-width="0.9"/>
<line x1="15.75" y1="-8.75" x2="15.75" y2="8.75" stroke="#ffffff" stroke-width="0.9"/>
<line x1="-31.5" y1="5.75" x2="31.5" y2="5.75" stroke="#ffffff" stroke-width="0.9"/>
</g>
<text x="637.6" y="398.34" font-size="14.58" font-weight="bold" fill="#ffffff" textLength="6" lengthAdjust="spacingAndGlyphs">1</text>
<text x="648.83" y="387.3" font-size="14.58" font-weight="bold" fill="#ffffff" textLength="6" lengthAdjust="spacingAndGlyphs">2</text>
<text x="660.07" y="376.26" font-size="14.58" font-weight="bold" fill="#ffffff" textLength="6" lengthAdjust="spacingAndGlyphs">3</text>
<text x="671.3" y="365.22" font-size="14.58" font-weight="bold" fill="#ffffff" textLength="6" lengthAdjust="spacingAndGlyphs">4</text>
<text x="632.5" y="372.1" font-size="26.39" font-weight="bold" fill="#ffffff" stroke="#ffffff" stroke-width="4.4" stroke-linejoin="round" textLength="18" lengthAdjust="spacingAndGlyphs">15</text><text x="632.5" y="372.1" font-size="26.39" font-weight="bold" fill="#231f20" textLength="18" lengthAdjust="spacingAndGlyphs">15</text>
<g transform="translate(637.8 420.25) rotate(-45)">
<rect x="-31.5" y="-6.25" width="63" height="12.5" fill="#231f20" />
</g>
<g transform="translate(658.5 439.9) rotate(-44.5)">
<rect x="-31.5" y="-8.75" width="63" height="17.5" fill="#10a04a" />
<line x1="-15.75" y1="-8.75" x2="-15.75" y2="8.75" stroke="#ffffff" stroke-width="0.9"/>
<line x1="0" y1="-8.75" x2="0" y2="8.75" stroke="#ffffff" stroke-width="0.9"/>
<line x1="15.75" y1="-8.75" x2="15.75" y2="8.75" stroke="#ffffff" stroke-width="0.9"/>
<line x1="-31.5" y1="5.75" x2="31.5" y2="5.75" stroke="#ffffff" stroke-width="0.9"/>
</g>
<text x="637.6" y="460.64" font-size="14.58" font-weight="bold" fill="#ffffff" textLength="6" lengthAdjust="spacingAndGlyphs">1</text>
<text x="648.83" y="449.6" font-size="14.58" font-weight="bold" fill="#ffffff" textLength="6" lengthAdjust="spacingAndGlyphs">2</text>
<text x="660.07" y="438.56" font-size="14.58" font-weight="bold" fill="#ffffff" textLength="6" lengthAdjust="spacingAndGlyphs">3</text>
<text x="671.3" y="427.52" font-size="14.58" font-weight="bold" fill="#ffffff" textLength="6" lengthAdjust="spacingAndGlyphs">4</text>
<text x="632.5" y="432.9" font-size="26.39" font-weight="bold" fill="#ffffff" stroke="#ffffff" stroke-width="4.4" stroke-linejoin="round" textLength="18" lengthAdjust="spacingAndGlyphs">14</text><text x="632.5" y="432.9" font-size="26.39" font-weight="bold" fill="#231f20" textLength="18" lengthAdjust="spacingAndGlyphs">14</text>
<polygon points="644.5,472.2 674.6,444.3 674.6,472.2" fill="#231f20"/>
<text x="669.3" y="476.5" font-size="26.39" font-weight="bold" fill="#ffffff" stroke="#ffffff" stroke-width="4.4" stroke-linejoin="round" textLength="17" lengthAdjust="spacingAndGlyphs">34</text><text x="669.3" y="476.5" font-size="26.39" font-weight="bold" fill="#231f20" textLength="17" lengthAdjust="spacingAndGlyphs">34</text>
<rect x="641.6" y="483" width="30.4" height="19" fill="#fedd00" />
<line x1="656.8" y1="483" x2="656.8" y2="502" stroke="#ffec80" stroke-width="0.9"/>
<line x1="641.6" y1="498" x2="672" y2="498" stroke="#ffec80" stroke-width="0.9"/>
<text x="645.95" y="496.3" font-size="16.11" font-weight="bold" fill="#231f20" textLength="6.5" lengthAdjust="spacingAndGlyphs">1</text>
<text x="661.15" y="496.3" font-size="16.11" font-weight="bold" fill="#231f20" textLength="6.5" lengthAdjust="spacingAndGlyphs">2</text>
<rect x="641.6" y="505" width="30.4" height="11.5" fill="#231f20" />
<text x="668" y="526" font-size="26.39" font-weight="bold" fill="#ffffff" stroke="#ffffff" stroke-width="4.4" stroke-linejoin="round" textLength="17" lengthAdjust="spacingAndGlyphs">35</text><text x="668" y="526" font-size="26.39" font-weight="bold" fill="#231f20" textLength="17" lengthAdjust="spacingAndGlyphs">35</text>
<rect x="641.6" y="527.4" width="30.4" height="19" fill="#fedd00" />
<line x1="656.8" y1="527.4" x2="656.8" y2="546.4" stroke="#ffec80" stroke-width="0.9"/>
<line x1="641.6" y1="542.4" x2="672" y2="542.4" stroke="#ffec80" stroke-width="0.9"/>
<text x="645.95" y="540.7" font-size="16.11" font-weight="bold" fill="#231f20" textLength="6.5" lengthAdjust="spacingAndGlyphs">1</text>
<text x="661.15" y="540.7" font-size="16.11" font-weight="bold" fill="#231f20" textLength="6.5" lengthAdjust="spacingAndGlyphs">2</text>
<rect x="641.6" y="549.4" width="30.4" height="11.5" fill="#231f20" />
<text x="668" y="570.4" font-size="26.39" font-weight="bold" fill="#ffffff" stroke="#ffffff" stroke-width="4.4" stroke-linejoin="round" textLength="17" lengthAdjust="spacingAndGlyphs">36</text><text x="668" y="570.4" font-size="26.39" font-weight="bold" fill="#231f20" textLength="17" lengthAdjust="spacingAndGlyphs">36</text>
<rect x="641.6" y="571.8" width="30.4" height="19" fill="#fedd00" />
<line x1="656.8" y1="571.8" x2="656.8" y2="590.8" stroke="#ffec80" stroke-width="0.9"/>
<line x1="641.6" y1="586.8" x2="672" y2="586.8" stroke="#ffec80" stroke-width="0.9"/>
<text x="645.95" y="585.1" font-size="16.11" font-weight="bold" fill="#231f20" textLength="6.5" lengthAdjust="spacingAndGlyphs">1</text>
<text x="661.15" y="585.1" font-size="16.11" font-weight="bold" fill="#231f20" textLength="6.5" lengthAdjust="spacingAndGlyphs">2</text>
<rect x="641.6" y="593.8" width="30.4" height="11.5" fill="#231f20" />
<text x="668" y="614.8" font-size="26.39" font-weight="bold" fill="#ffffff" stroke="#ffffff" stroke-width="4.4" stroke-linejoin="round" textLength="17" lengthAdjust="spacingAndGlyphs">37</text><text x="668" y="614.8" font-size="26.39" font-weight="bold" fill="#231f20" textLength="17" lengthAdjust="spacingAndGlyphs">37</text>
<rect x="641.6" y="616.2" width="30.4" height="19" fill="#fedd00" />
<line x1="656.8" y1="616.2" x2="656.8" y2="635.2" stroke="#ffec80" stroke-width="0.9"/>
<line x1="641.6" y1="631.2" x2="672" y2="631.2" stroke="#ffec80" stroke-width="0.9"/>
<text x="645.95" y="629.5" font-size="16.11" font-weight="bold" fill="#231f20" textLength="6.5" lengthAdjust="spacingAndGlyphs">1</text>
<text x="661.15" y="629.5" font-size="16.11" font-weight="bold" fill="#231f20" textLength="6.5" lengthAdjust="spacingAndGlyphs">2</text>
<rect x="641.6" y="638.2" width="30.4" height="11.5" fill="#231f20" />
<text x="668" y="659.2" font-size="26.39" font-weight="bold" fill="#ffffff" stroke="#ffffff" stroke-width="4.4" stroke-linejoin="round" textLength="17" lengthAdjust="spacingAndGlyphs">38</text><text x="668" y="659.2" font-size="26.39" font-weight="bold" fill="#231f20" textLength="17" lengthAdjust="spacingAndGlyphs">38</text>
<rect x="641.6" y="660.6" width="30.4" height="19" fill="#fedd00" />
<line x1="656.8" y1="660.6" x2="656.8" y2="679.6" stroke="#ffec80" stroke-width="0.9"/>
<line x1="641.6" y1="675.6" x2="672" y2="675.6" stroke="#ffec80" stroke-width="0.9"/>
<text x="645.95" y="673.9" font-size="16.11" font-weight="bold" fill="#231f20" textLength="6.5" lengthAdjust="spacingAndGlyphs">1</text>
<text x="661.15" y="673.9" font-size="16.11" font-weight="bold" fill="#231f20" textLength="6.5" lengthAdjust="spacingAndGlyphs">2</text>
<rect x="710" y="541.4" width="37" height="12.7" fill="#231f20" />
<rect x="714" y="554.1" width="30.6" height="20.3" fill="#fedd00" />
<line x1="729.3" y1="554.1" x2="729.3" y2="574.4" stroke="#ffec80" stroke-width="0.9"/>
<line x1="714" y1="570.4" x2="744.6" y2="570.4" stroke="#ffec80" stroke-width="0.9"/>
<text x="718.4" y="568.05" font-size="16.11" font-weight="bold" fill="#231f20" textLength="6.5" lengthAdjust="spacingAndGlyphs">1</text>
<text x="733.7" y="568.05" font-size="16.11" font-weight="bold" fill="#231f20" textLength="6.5" lengthAdjust="spacingAndGlyphs">2</text>
<text x="719.85" y="557.15" font-size="25.69" font-weight="bold" fill="#ffffff" stroke="#ffffff" stroke-width="4.4" stroke-linejoin="round" textLength="18.3" lengthAdjust="spacingAndGlyphs">29</text><text x="719.85" y="557.15" font-size="25.69" font-weight="bold" fill="#231f20" textLength="18.3" lengthAdjust="spacingAndGlyphs">29</text>
<rect x="710" y="584.05" width="37" height="12.7" fill="#231f20" />
<rect x="714" y="596.75" width="30.6" height="20.3" fill="#fedd00" />
<line x1="729.3" y1="596.75" x2="729.3" y2="617.05" stroke="#ffec80" stroke-width="0.9"/>
<line x1="714" y1="613.05" x2="744.6" y2="613.05" stroke="#ffec80" stroke-width="0.9"/>
<text x="718.4" y="610.7" font-size="16.11" font-weight="bold" fill="#231f20" textLength="6.5" lengthAdjust="spacingAndGlyphs">1</text>
<text x="733.7" y="610.7" font-size="16.11" font-weight="bold" fill="#231f20" textLength="6.5" lengthAdjust="spacingAndGlyphs">2</text>
<text x="719.85" y="599.8" font-size="25.69" font-weight="bold" fill="#ffffff" stroke="#ffffff" stroke-width="4.4" stroke-linejoin="round" textLength="18.3" lengthAdjust="spacingAndGlyphs">30</text><text x="719.85" y="599.8" font-size="25.69" font-weight="bold" fill="#231f20" textLength="18.3" lengthAdjust="spacingAndGlyphs">30</text>
<rect x="710" y="626.7" width="37" height="12.7" fill="#231f20" />
<rect x="714" y="639.4" width="30.6" height="20.3" fill="#fedd00" />
<line x1="729.3" y1="639.4" x2="729.3" y2="659.7" stroke="#ffec80" stroke-width="0.9"/>
<line x1="714" y1="655.7" x2="744.6" y2="655.7" stroke="#ffec80" stroke-width="0.9"/>
<text x="718.4" y="653.35" font-size="16.11" font-weight="bold" fill="#231f20" textLength="6.5" lengthAdjust="spacingAndGlyphs">1</text>
<text x="733.7" y="653.35" font-size="16.11" font-weight="bold" fill="#231f20" textLength="6.5" lengthAdjust="spacingAndGlyphs">2</text>
<text x="719.85" y="642.45" font-size="25.69" font-weight="bold" fill="#ffffff" stroke="#ffffff" stroke-width="4.4" stroke-linejoin="round" textLength="18.3" lengthAdjust="spacingAndGlyphs">31</text><text x="719.85" y="642.45" font-size="25.69" font-weight="bold" fill="#231f20" textLength="18.3" lengthAdjust="spacingAndGlyphs">31</text>
<rect x="710" y="669.35" width="37" height="12.7" fill="#231f20" />
<rect x="714" y="682.05" width="30.6" height="20.3" fill="#e31d25" />
<line x1="729.3" y1="682.05" x2="729.3" y2="702.35" stroke="#ffffff" stroke-width="0.9"/>
<line x1="714" y1="698.35" x2="744.6" y2="698.35" stroke="#ffffff" stroke-width="0.9"/>
<text x="718.4" y="696" font-size="16.11" font-weight="bold" fill="#ffffff" textLength="6.5" lengthAdjust="spacingAndGlyphs">1</text>
<text x="733.7" y="696" font-size="16.11" font-weight="bold" fill="#ffffff" textLength="6.5" lengthAdjust="spacingAndGlyphs">2</text>
<text x="719.85" y="685.1" font-size="25.69" font-weight="bold" fill="#ffffff" stroke="#ffffff" stroke-width="4.4" stroke-linejoin="round" textLength="18.3" lengthAdjust="spacingAndGlyphs">32</text><text x="719.85" y="685.1" font-size="25.69" font-weight="bold" fill="#231f20" textLength="18.3" lengthAdjust="spacingAndGlyphs">32</text>
<rect x="710" y="712" width="37" height="12.7" fill="#231f20" />
<rect x="714" y="724.7" width="30.6" height="20.3" fill="#e31d25" />
<line x1="729.3" y1="724.7" x2="729.3" y2="745" stroke="#ffffff" stroke-width="0.9"/>
<line x1="714" y1="741" x2="744.6" y2="741" stroke="#ffffff" stroke-width="0.9"/>
<text x="718.4" y="738.65" font-size="16.11" font-weight="bold" fill="#ffffff" textLength="6.5" lengthAdjust="spacingAndGlyphs">1</text>
<text x="733.7" y="738.65" font-size="16.11" font-weight="bold" fill="#ffffff" textLength="6.5" lengthAdjust="spacingAndGlyphs">2</text>
<text x="719.85" y="727.75" font-size="25.69" font-weight="bold" fill="#ffffff" stroke="#ffffff" stroke-width="4.4" stroke-linejoin="round" textLength="18.3" lengthAdjust="spacingAndGlyphs">33</text><text x="719.85" y="727.75" font-size="25.69" font-weight="bold" fill="#231f20" textLength="18.3" lengthAdjust="spacingAndGlyphs">33</text>
<rect x="586.6" y="760.5" width="85.4" height="13.7" fill="#231f20" />
<text x="599.2" y="782.2" font-size="26.39" font-weight="bold" fill="#ffffff" stroke="#ffffff" stroke-width="4.4" stroke-linejoin="round" textLength="19" lengthAdjust="spacingAndGlyphs">58</text><text x="599.2" y="782.2" font-size="26.39" font-weight="bold" fill="#231f20" textLength="19" lengthAdjust="spacingAndGlyphs">58</text>
<text x="640.5" y="782.2" font-size="26.39" font-weight="bold" fill="#ffffff" stroke="#ffffff" stroke-width="4.4" stroke-linejoin="round" textLength="19" lengthAdjust="spacingAndGlyphs">59</text><text x="640.5" y="782.2" font-size="26.39" font-weight="bold" fill="#231f20" textLength="19" lengthAdjust="spacingAndGlyphs">59</text>
<rect x="582" y="784.3" width="96.7" height="17.4" fill="#e31d25" />
<line x1="598.12" y1="784.3" x2="598.12" y2="801.7" stroke="#ffffff" stroke-width="0.9"/>
<line x1="614.23" y1="784.3" x2="614.23" y2="801.7" stroke="#ffffff" stroke-width="0.9"/>
<line x1="630.35" y1="784.3" x2="630.35" y2="801.7" stroke="#ffffff" stroke-width="0.9"/>
<line x1="646.47" y1="784.3" x2="646.47" y2="801.7" stroke="#ffffff" stroke-width="0.9"/>
<line x1="662.58" y1="784.3" x2="662.58" y2="801.7" stroke="#ffffff" stroke-width="0.9"/>
<line x1="582" y1="797.7" x2="678.7" y2="797.7" stroke="#ffffff" stroke-width="0.9"/>
<rect x="589.7" y="804.7" width="37.2" height="12.3" fill="#231f20" />
<text x="599.2" y="826.9" font-size="26.39" font-weight="bold" fill="#ffffff" stroke="#ffffff" stroke-width="4.4" stroke-linejoin="round" textLength="19" lengthAdjust="spacingAndGlyphs">60</text><text x="599.2" y="826.9" font-size="26.39" font-weight="bold" fill="#231f20" textLength="19" lengthAdjust="spacingAndGlyphs">60</text>
<rect x="636" y="804.7" width="37.6" height="12.3" fill="#231f20" />
<text x="645.5" y="826.9" font-size="26.39" font-weight="bold" fill="#ffffff" stroke="#ffffff" stroke-width="4.4" stroke-linejoin="round" textLength="19" lengthAdjust="spacingAndGlyphs">61</text><text x="645.5" y="826.9" font-size="26.39" font-weight="bold" fill="#231f20" textLength="19" lengthAdjust="spacingAndGlyphs">61</text>
<rect x="588.2" y="830.6" width="89.3" height="17.7" fill="#e31d25" />
<line x1="603.08" y1="830.6" x2="603.08" y2="848.3" stroke="#ffffff" stroke-width="0.9"/>
<line x1="617.97" y1="830.6" x2="617.97" y2="848.3" stroke="#ffffff" stroke-width="0.9"/>
<line x1="632.85" y1="830.6" x2="632.85" y2="848.3" stroke="#ffffff" stroke-width="0.9"/>
<line x1="647.73" y1="830.6" x2="647.73" y2="848.3" stroke="#ffffff" stroke-width="0.9"/>
<line x1="662.62" y1="830.6" x2="662.62" y2="848.3" stroke="#ffffff" stroke-width="0.9"/>
<line x1="588.2" y1="844.3" x2="677.5" y2="844.3" stroke="#ffffff" stroke-width="0.9"/>
<text x="592.39" y="843.25" font-size="16.11" font-weight="bold" fill="#ffffff" textLength="6.5" lengthAdjust="spacingAndGlyphs">1</text>
<text x="607.28" y="843.25" font-size="16.11" font-weight="bold" fill="#ffffff" textLength="6.5" lengthAdjust="spacingAndGlyphs">2</text>
<text x="622.16" y="843.25" font-size="16.11" font-weight="bold" fill="#ffffff" textLength="6.5" lengthAdjust="spacingAndGlyphs">3</text>
<text x="637.04" y="843.25" font-size="16.11" font-weight="bold" fill="#ffffff" textLength="6.5" lengthAdjust="spacingAndGlyphs">1</text>
<text x="651.93" y="843.25" font-size="16.11" font-weight="bold" fill="#ffffff" textLength="6.5" lengthAdjust="spacingAndGlyphs">2</text>
<text x="666.81" y="843.25" font-size="16.11" font-weight="bold" fill="#ffffff" textLength="6.5" lengthAdjust="spacingAndGlyphs">3</text>
<rect x="587.6" y="855" width="41.7" height="12.8" fill="#231f20" />
<text x="599.2" y="877.5" font-size="26.39" font-weight="bold" fill="#ffffff" stroke="#ffffff" stroke-width="4.4" stroke-linejoin="round" textLength="19" lengthAdjust="spacingAndGlyphs">62</text><text x="599.2" y="877.5" font-size="26.39" font-weight="bold" fill="#231f20" textLength="19" lengthAdjust="spacingAndGlyphs">62</text>
<rect x="635.4" y="855" width="41.2" height="12.8" fill="#231f20" />
<text x="646.5" y="877.5" font-size="26.39" font-weight="bold" fill="#ffffff" stroke="#ffffff" stroke-width="4.4" stroke-linejoin="round" textLength="19" lengthAdjust="spacingAndGlyphs">63</text><text x="646.5" y="877.5" font-size="26.39" font-weight="bold" fill="#231f20" textLength="19" lengthAdjust="spacingAndGlyphs">63</text>
<rect x="705" y="753.8" width="11.3" height="45.7" fill="#231f20" />
<text x="707.5" y="787.5" font-size="26.39" font-weight="bold" fill="#ffffff" stroke="#ffffff" stroke-width="4.4" stroke-linejoin="round" textLength="19" lengthAdjust="spacingAndGlyphs">66</text><text x="707.5" y="787.5" font-size="26.39" font-weight="bold" fill="#231f20" textLength="19" lengthAdjust="spacingAndGlyphs">66</text>
<rect x="705" y="824.5" width="12.8" height="38.2" fill="#231f20" />
<text x="707.5" y="854.5" font-size="26.39" font-weight="bold" fill="#ffffff" stroke="#ffffff" stroke-width="4.4" stroke-linejoin="round" textLength="19" lengthAdjust="spacingAndGlyphs">65</text><text x="707.5" y="854.5" font-size="26.39" font-weight="bold" fill="#231f20" textLength="19" lengthAdjust="spacingAndGlyphs">65</text>
<rect x="732.4" y="754.4" width="18.3" height="129.6" fill="#e31d25" />
<line x1="732.4" y1="770.6" x2="750.7" y2="770.6" stroke="#ffffff" stroke-width="0.9"/>
<line x1="732.4" y1="786.8" x2="750.7" y2="786.8" stroke="#ffffff" stroke-width="0.9"/>
<line x1="732.4" y1="803" x2="750.7" y2="803" stroke="#ffffff" stroke-width="0.9"/>
<line x1="732.4" y1="819.2" x2="750.7" y2="819.2" stroke="#ffffff" stroke-width="0.9"/>
<line x1="732.4" y1="835.4" x2="750.7" y2="835.4" stroke="#ffffff" stroke-width="0.9"/>
<line x1="732.4" y1="851.6" x2="750.7" y2="851.6" stroke="#ffffff" stroke-width="0.9"/>
<line x1="732.4" y1="867.8" x2="750.7" y2="867.8" stroke="#ffffff" stroke-width="0.9"/>
<line x1="746.7" y1="754.4" x2="746.7" y2="884" stroke="#ffffff" stroke-width="0.9"/>
<text x="736.3" y="768.3" font-size="16.11" font-weight="bold" fill="#ffffff" textLength="6.5" lengthAdjust="spacingAndGlyphs">1</text>
<text x="736.3" y="784.5" font-size="16.11" font-weight="bold" fill="#ffffff" textLength="6.5" lengthAdjust="spacingAndGlyphs">2</text>
<text x="736.3" y="800.7" font-size="16.11" font-weight="bold" fill="#ffffff" textLength="6.5" lengthAdjust="spacingAndGlyphs">3</text>
<text x="736.3" y="816.9" font-size="16.11" font-weight="bold" fill="#ffffff" textLength="6.5" lengthAdjust="spacingAndGlyphs">4</text>
<text x="736.3" y="833.1" font-size="16.11" font-weight="bold" fill="#ffffff" textLength="6.5" lengthAdjust="spacingAndGlyphs">1</text>
<text x="736.3" y="849.3" font-size="16.11" font-weight="bold" fill="#ffffff" textLength="6.5" lengthAdjust="spacingAndGlyphs">2</text>
<text x="736.3" y="865.5" font-size="16.11" font-weight="bold" fill="#ffffff" textLength="6.5" lengthAdjust="spacingAndGlyphs">3</text>
<text x="736.3" y="881.7" font-size="16.11" font-weight="bold" fill="#ffffff" textLength="6.5" lengthAdjust="spacingAndGlyphs">4</text>
<rect x="728.5" y="887" width="22.8" height="21.4" fill="#231f20" />
<rect x="566" y="889" width="159.4" height="18.5" fill="#e31d25" />
<line x1="581.94" y1="889" x2="581.94" y2="907.5" stroke="#ffffff" stroke-width="0.9"/>
<line x1="597.88" y1="889" x2="597.88" y2="907.5" stroke="#ffffff" stroke-width="0.9"/>
<line x1="613.82" y1="889" x2="613.82" y2="907.5" stroke="#ffffff" stroke-width="0.9"/>
<line x1="629.76" y1="889" x2="629.76" y2="907.5" stroke="#ffffff" stroke-width="0.9"/>
<line x1="645.7" y1="889" x2="645.7" y2="907.5" stroke="#ffffff" stroke-width="0.9"/>
<line x1="661.64" y1="889" x2="661.64" y2="907.5" stroke="#ffffff" stroke-width="0.9"/>
<line x1="677.58" y1="889" x2="677.58" y2="907.5" stroke="#ffffff" stroke-width="0.9"/>
<line x1="693.52" y1="889" x2="693.52" y2="907.5" stroke="#ffffff" stroke-width="0.9"/>
<line x1="709.46" y1="889" x2="709.46" y2="907.5" stroke="#ffffff" stroke-width="0.9"/>
<line x1="566" y1="903.5" x2="725.4" y2="903.5" stroke="#ffffff" stroke-width="0.9"/>
<text x="570.72" y="902.05" font-size="16.11" font-weight="bold" fill="#ffffff" textLength="6.5" lengthAdjust="spacingAndGlyphs">1</text>
<text x="586.66" y="902.05" font-size="16.11" font-weight="bold" fill="#ffffff" textLength="6.5" lengthAdjust="spacingAndGlyphs">2</text>
<text x="602.6" y="902.05" font-size="16.11" font-weight="bold" fill="#ffffff" textLength="6.5" lengthAdjust="spacingAndGlyphs">3</text>
<text x="618.54" y="902.05" font-size="16.11" font-weight="bold" fill="#ffffff" textLength="6.5" lengthAdjust="spacingAndGlyphs">4</text>
<text x="634.48" y="902.05" font-size="16.11" font-weight="bold" fill="#ffffff" textLength="6.5" lengthAdjust="spacingAndGlyphs">1</text>
<text x="650.42" y="902.05" font-size="16.11" font-weight="bold" fill="#ffffff" textLength="6.5" lengthAdjust="spacingAndGlyphs">2</text>
<text x="666.36" y="902.05" font-size="16.11" font-weight="bold" fill="#ffffff" textLength="6.5" lengthAdjust="spacingAndGlyphs">3</text>
<text x="682.3" y="902.05" font-size="16.11" font-weight="bold" fill="#ffffff" textLength="6.5" lengthAdjust="spacingAndGlyphs">4</text>
<text x="698.24" y="902.05" font-size="16.11" font-weight="bold" fill="#ffffff" textLength="6.5" lengthAdjust="spacingAndGlyphs">1</text>
<text x="714.18" y="902.05" font-size="16.11" font-weight="bold" fill="#ffffff" textLength="6.5" lengthAdjust="spacingAndGlyphs">2</text>
<text x="725.3" y="900.5" font-size="26.39" font-weight="bold" fill="#ffffff" stroke="#ffffff" stroke-width="4.4" stroke-linejoin="round" textLength="17" lengthAdjust="spacingAndGlyphs">64</text><text x="725.3" y="900.5" font-size="26.39" font-weight="bold" fill="#231f20" textLength="17" lengthAdjust="spacingAndGlyphs">64</text>
<rect x="147.3" y="945.9" width="38.6" height="17.6" fill="#10a04a" />
<rect x="147.3" y="976.4" width="38.6" height="17.6" fill="#fedd00" />
<rect x="333" y="946.4" width="38.8" height="17.3" fill="#e31d25" />
<circle cx="352.3" cy="987" r="11.5" fill="#fedd00"/>
<g transform="translate(197.9 963.5) scale(0.63 1)"><text x="0" y="0" font-size="24.93" font-weight="bold" fill="#808184" textLength="140" lengthAdjust="spacing">СУПЕР VIP</text></g>
<g transform="translate(198 994.6) scale(0.63 1)"><text x="0" y="0" font-size="24.93" font-weight="bold" fill="#808184" textLength="42.86" lengthAdjust="spacing">VIP</text></g>
<g transform="translate(384.75 963.8) scale(0.63 1)"><text x="0" y="0" font-size="24.93" font-weight="bold" fill="#808184" textLength="405.87" lengthAdjust="spacing">VIP (ОГРАНИЧЕННЫЙ ОБЗОР)</text></g>
<g transform="translate(384.75 994.8) scale(0.63 1)"><text x="0" y="0" font-size="24.93" font-weight="bold" fill="#808184" textLength="226.19" lengthAdjust="spacing">БАРНЫЕ СТУЛЬЯ</text></g>
</svg></body></html>
